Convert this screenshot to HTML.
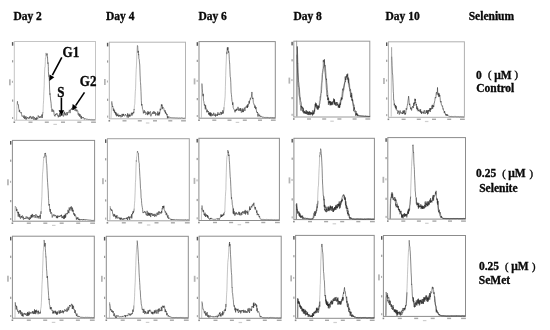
<!DOCTYPE html>
<html><head><meta charset="utf-8"><style>
html,body{margin:0;padding:0;background:#fff;}
#wrap{position:relative;width:550px;height:330px;overflow:hidden;background:#fff;}
svg{position:absolute;left:0;top:0;}
.t{position:absolute;font-family:"Liberation Serif","Noto Serif CJK SC",serif;font-weight:bold;color:#0a0a0a;white-space:nowrap;line-height:1;-webkit-text-stroke:0.3px #000;}
.h{font-size:11.5px;}
.l{font-size:11.5px;}
.g{font-size:13px;transform:scaleY(1.15);transform-origin:0 10.5px;}
.p{font-weight:normal;font-size:10.5px;-webkit-text-stroke:0.4px #000;}
</style></head><body><div id="wrap">
<svg width="550" height="330" viewBox="0 0 550 330">
<rect x="14.3" y="41.5" width="81.2" height="78.7" fill="none" stroke="#c4c4c4" stroke-width="1"/>
<rect x="11.9" y="42.1" width="1.4" height="3.6" fill="#555"/>
<rect x="12.0" y="60.2" width="1.2" height="2.2" fill="#999"/>
<rect x="12.0" y="99.5" width="1.2" height="2.2" fill="#999"/>
<rect x="12.0" y="117.0" width="1.2" height="2" fill="#aaa"/>
<rect x="9.0" y="79.3" width="1.7" height="6" fill="#b4b4b4"/>
<rect x="11.9" y="80.8" width="1.1" height="2" fill="#b0b0b0"/>
<rect x="13.5" y="121.4" width="1.6" height="1.6" fill="#888"/>
<rect x="28.5" y="121.5" width="4.0" height="1.4" fill="#a8a8a8"/>
<rect x="44.8" y="121.5" width="4.0" height="1.4" fill="#a8a8a8"/>
<rect x="61.0" y="121.5" width="4.0" height="1.4" fill="#a8a8a8"/>
<rect x="77.3" y="121.5" width="4.0" height="1.4" fill="#a8a8a8"/>
<rect x="91.1" y="121.5" width="4.8" height="1.4" fill="#a8a8a8"/>
<rect x="53.4" y="123.8" width="3.5" height="1.2" fill="#cfcfcf"/>
<path d="M16.60,119.80 16.90,106.52 17.20,101.68 17.50,101.21 M43.00,112.00 43.30,104.47 43.60,100.32 43.90,91.54 44.20,85.78 44.30,80.10 44.50,74.82 44.80,67.40 45.10,67.39 45.30,61.80 45.40,58.05 45.70,58.34 46.00,52.89 46.30,56.09 46.40,53.82" fill="none" stroke="#8a8a8a" stroke-width="0.5" stroke-linejoin="round"/>
<path d="M17.50,101.21 17.60,103.87 17.80,103.98 18.10,104.91 18.40,104.75 18.70,108.38 19.00,109.13 19.30,111.90 19.60,109.99 19.90,112.29 20.00,112.48 20.20,112.44 20.50,112.74 20.80,113.11 21.10,112.50 21.30,112.24 21.40,113.15 21.70,114.77 22.00,116.27 22.30,115.93 22.60,116.36 22.70,116.14 22.90,116.08 23.20,115.65 23.50,116.61 23.80,118.07 24.10,115.81 24.40,115.64 24.70,118.99 25.00,117.17 25.30,118.19 25.60,118.26 25.90,116.17 26.00,119.66 26.20,119.44 26.50,117.81 26.80,118.48 27.10,117.92 27.40,117.01 27.70,117.84 28.00,118.22 28.30,118.74 28.60,118.23 28.90,117.53 29.20,118.50 29.50,116.69 29.80,117.99 30.00,118.25 30.10,117.15 30.40,115.95 30.70,116.62 31.00,117.51 31.30,117.86 31.60,118.81 31.90,116.84 32.20,117.79 32.50,118.45 32.80,117.80 33.10,116.20 33.40,118.57 33.70,119.59 34.00,118.70 34.30,117.02 34.60,117.53 34.90,118.16 35.00,119.78 35.20,118.58 35.50,118.18 35.80,119.61 36.10,118.00 36.40,119.80 36.70,117.27 37.00,117.40 37.30,118.57 37.60,119.23 37.90,118.31 38.00,117.89 38.20,115.48 38.50,116.55 38.80,116.52 39.10,116.50 39.40,117.74 39.70,116.62 40.00,117.87 40.30,117.00 40.50,116.48 40.60,116.87 40.90,117.11 41.20,117.51 41.50,115.77 41.80,115.96 42.00,114.47 42.10,118.02 42.40,116.92 42.70,113.61 43.00,112.00 M46.40,53.82 46.60,54.09 46.90,54.62 47.20,53.55 47.30,57.19 47.50,57.01 47.80,63.60 48.10,62.61 48.30,66.46 48.40,71.31 48.70,76.30 49.00,75.98 49.30,79.62 49.60,89.06 49.90,94.60 50.00,93.51 50.20,95.99 50.50,98.93 50.80,101.07 51.10,103.33 51.40,107.80 51.70,108.34 52.00,111.75 52.30,109.47 52.60,110.19 52.90,109.79 53.20,111.77 53.50,110.61 53.80,110.46 54.10,114.22 54.40,115.64 54.70,115.28 55.00,116.35 55.30,115.05 55.60,113.90 55.90,115.01 56.20,114.51 56.50,113.66 56.80,113.01 57.10,113.36 57.40,115.31 57.70,115.59 58.00,114.88 58.30,117.31 58.60,115.69 58.90,116.15 59.20,116.90 59.50,114.30 59.80,112.82 60.00,116.12 60.10,114.25 60.40,116.53 60.70,115.11 61.00,115.73 61.30,115.22 61.60,111.85 61.90,115.49 62.20,113.98 62.50,114.11 62.80,114.75 63.10,116.34 63.40,116.26 63.70,116.20 64.00,112.63 64.30,113.74 64.60,111.75 64.90,114.24 65.00,115.16 65.20,113.39 65.50,114.59 65.80,114.50 66.10,115.43 66.40,112.82 66.70,112.47 67.00,112.21 67.30,115.18 67.60,113.98 67.90,112.12 68.00,112.57 68.20,112.33 68.50,112.30 68.80,111.60 69.10,111.28 69.40,109.86 69.70,110.32 70.00,113.15 70.30,111.20 70.60,110.14 70.90,109.35 71.00,109.62 71.20,109.90 71.50,108.23 71.80,109.25 72.10,109.11 72.40,107.43 72.70,107.24 73.00,106.96 73.30,106.90 73.50,109.89 73.60,105.69 73.90,108.86 74.20,108.89 74.50,108.65 74.80,109.51 75.10,110.83 75.40,109.05 75.50,108.65 75.70,108.05 76.00,109.23 76.30,111.35 76.60,110.10 76.90,109.67 77.20,110.15 77.50,110.89 77.80,110.83 78.10,114.49 78.40,113.80 78.70,113.35 79.00,115.84 79.30,113.82 79.60,116.21 79.90,116.90 80.00,114.33 80.20,114.49 80.50,115.49 80.80,117.87 81.10,118.55 81.40,115.88 81.70,118.62 82.00,117.36 82.30,117.54 82.60,117.53 82.90,117.82 83.20,117.06 83.50,117.75 83.80,117.86 84.00,118.68 84.10,119.24 84.40,119.24 84.70,118.60 85.00,118.37 85.30,118.77 85.60,118.78 85.90,119.22 86.20,119.10 86.50,119.10 86.80,119.29 87.10,119.33 87.40,119.19 87.70,119.37 88.00,119.48 88.30,119.51 88.60,119.54 88.90,119.50 89.20,119.57 89.50,119.51 89.80,119.49 90.10,119.74 90.40,119.64 90.70,119.66 91.00,119.47 91.30,119.62 91.60,119.74 91.90,119.54 92.20,119.79 92.50,119.65 92.80,119.75 93.10,119.71 93.40,119.75 93.70,119.80 94.00,119.72 94.30,119.80 94.60,119.70 94.90,119.70 95.00,119.80" fill="none" stroke="#4a4a4a" stroke-width="0.7" stroke-linejoin="round"/>
<rect x="109.3" y="42.2" width="76.2" height="76.6" fill="none" stroke="#b4b4b4" stroke-width="1"/>
<rect x="106.9" y="42.8" width="1.4" height="3.6" fill="#555"/>
<rect x="107.0" y="60.4" width="1.2" height="2.2" fill="#999"/>
<rect x="107.0" y="98.7" width="1.2" height="2.2" fill="#999"/>
<rect x="107.0" y="115.6" width="1.2" height="2" fill="#aaa"/>
<rect x="104.0" y="79.0" width="1.7" height="6" fill="#b4b4b4"/>
<rect x="106.9" y="80.5" width="1.1" height="2" fill="#b0b0b0"/>
<rect x="108.5" y="120.0" width="1.6" height="1.6" fill="#888"/>
<rect x="122.5" y="120.1" width="4.0" height="1.4" fill="#a8a8a8"/>
<rect x="137.8" y="120.1" width="4.0" height="1.4" fill="#a8a8a8"/>
<rect x="153.0" y="120.1" width="4.0" height="1.4" fill="#a8a8a8"/>
<rect x="168.3" y="120.1" width="4.0" height="1.4" fill="#a8a8a8"/>
<rect x="181.1" y="120.1" width="4.8" height="1.4" fill="#a8a8a8"/>
<rect x="145.9" y="122.4" width="3.5" height="1.2" fill="#cfcfcf"/>
<path d="M111.00,118.09 111.30,110.22 111.50,103.44 111.60,104.35 111.80,101.36 M134.20,109.53 134.40,105.64 134.70,104.52 134.80,103.51 135.00,98.51 135.30,91.63 135.60,88.31 135.90,77.28 136.20,69.57 136.50,65.10 136.80,56.08 137.10,47.68 137.40,45.38" fill="none" stroke="#8a8a8a" stroke-width="0.5" stroke-linejoin="round"/>
<path d="M111.80,101.36 111.90,103.11 112.20,103.52 112.50,106.96 112.80,106.26 113.00,107.81 113.10,108.81 113.40,110.93 113.70,108.64 114.00,109.21 114.30,112.35 114.60,110.39 114.90,113.12 115.20,112.43 115.50,113.67 115.70,111.95 115.80,115.18 116.10,113.50 116.40,112.84 116.70,116.27 117.00,114.51 117.30,115.93 117.60,114.17 117.90,113.60 118.20,114.51 118.50,116.66 118.80,115.05 119.10,115.93 119.40,116.27 119.70,114.85 120.00,116.33 120.30,115.74 120.60,115.02 120.90,117.42 121.20,117.14 121.50,116.40 121.80,115.21 122.10,113.90 122.40,116.68 122.70,115.89 123.00,113.94 123.30,115.70 123.60,113.90 123.90,115.54 124.20,115.71 124.50,115.94 124.80,115.76 125.10,115.69 125.40,114.17 125.70,115.08 126.00,114.98 126.30,115.34 126.60,115.96 126.90,116.39 127.20,117.48 127.50,113.41 127.80,115.99 128.10,115.28 128.40,117.58 128.70,116.43 129.00,113.79 129.30,116.04 129.60,115.18 129.90,116.82 130.00,114.76 130.20,115.62 130.50,115.37 130.80,115.21 131.10,114.43 131.40,112.72 131.70,115.26 132.00,115.71 132.30,114.21 132.60,112.83 132.70,114.26 132.90,114.18 133.20,112.42 133.50,111.86 133.80,113.11 134.10,108.98 134.20,109.53 M137.40,45.38 137.70,45.90 138.00,52.68 138.30,50.88 138.60,55.08 138.70,54.48 138.90,58.71 139.20,59.20 139.50,62.98 139.70,64.00 139.80,66.01 140.10,75.10 140.40,81.68 140.50,82.48 140.70,85.31 141.00,91.60 141.30,100.30 141.60,105.45 141.90,104.08 142.20,106.15 142.50,108.85 142.60,109.17 142.80,109.55 143.10,110.90 143.40,113.38 143.70,111.75 144.00,111.36 144.30,110.21 144.60,112.88 144.90,112.80 145.20,111.50 145.50,111.92 145.70,113.40 145.80,114.69 146.10,114.11 146.40,113.45 146.70,112.64 147.00,113.31 147.30,112.75 147.60,115.17 147.90,111.07 148.20,112.05 148.50,114.15 148.80,112.17 149.10,114.36 149.40,112.46 149.70,112.88 150.00,112.38 150.30,111.35 150.60,112.16 150.90,116.30 151.20,114.46 151.50,114.15 151.80,114.35 152.10,113.59 152.40,113.92 152.70,112.11 153.00,112.24 153.30,113.88 153.60,112.24 153.90,111.06 154.20,112.56 154.50,112.30 154.80,113.95 155.00,112.34 155.10,111.96 155.40,113.03 155.70,115.59 156.00,113.58 156.30,113.82 156.60,113.60 156.90,113.95 157.20,114.73 157.50,115.32 157.80,111.46 158.10,115.31 158.40,113.59 158.70,113.20 159.00,115.52 159.30,112.01 159.60,114.19 159.90,112.21 160.20,108.75 160.50,110.21 160.80,109.94 161.10,107.95 161.40,104.44 161.70,106.10 161.90,105.82 162.00,104.51 162.30,109.13 162.60,106.70 162.90,107.10 163.20,107.84 163.50,107.76 163.80,108.40 164.10,110.22 164.40,111.13 164.70,110.62 165.00,111.78 165.20,110.48 165.30,113.17 165.60,112.03 165.90,113.75 166.20,112.83 166.50,113.82 166.80,115.19 167.10,113.99 167.40,118.26 167.70,116.37 167.80,116.48 168.00,116.07 168.30,117.99 168.60,117.86 168.90,117.28 169.20,116.73 169.50,117.24 169.80,117.63 170.00,117.57 170.10,117.51 170.40,117.52 170.70,117.57 171.00,117.65 171.30,117.60 171.60,117.66 171.90,117.80 172.20,117.78 172.50,117.65 172.80,117.73 173.10,117.73 173.40,117.73 173.70,117.78 174.00,117.75 174.30,117.77 174.60,117.78 174.90,117.80 175.20,117.94 175.50,117.90 175.80,117.70 176.10,117.80 176.40,117.78 176.70,117.95 177.00,117.90 177.30,117.98 177.60,117.90 177.90,117.73 178.20,117.97 178.50,117.96 178.80,118.00 179.10,117.83 179.40,117.98 179.70,117.92 180.00,117.93 180.30,118.05 180.60,118.06 180.90,117.95 181.20,117.88 181.50,117.81 181.80,118.01 182.10,118.20 182.40,118.09 182.70,117.88 183.00,118.03 183.30,118.17 183.60,118.31 183.90,118.27 184.20,118.20 184.50,118.20 184.80,118.09 185.00,118.15" fill="none" stroke="#262626" stroke-width="0.55" stroke-linejoin="round"/>
<rect x="199.0" y="41.6" width="76.3" height="76.6" fill="none" stroke="#8c8c8c" stroke-width="1"/>
<rect x="196.6" y="42.2" width="1.4" height="3.6" fill="#555"/>
<rect x="196.7" y="59.8" width="1.2" height="2.2" fill="#999"/>
<rect x="196.7" y="98.0" width="1.2" height="2.2" fill="#999"/>
<rect x="196.7" y="115.0" width="1.2" height="2" fill="#aaa"/>
<rect x="193.7" y="78.4" width="1.7" height="6" fill="#b4b4b4"/>
<rect x="196.6" y="79.9" width="1.1" height="2" fill="#b0b0b0"/>
<rect x="198.2" y="119.4" width="1.6" height="1.6" fill="#888"/>
<rect x="212.3" y="119.5" width="4.0" height="1.4" fill="#a8a8a8"/>
<rect x="227.5" y="119.5" width="4.0" height="1.4" fill="#a8a8a8"/>
<rect x="242.8" y="119.5" width="4.0" height="1.4" fill="#a8a8a8"/>
<rect x="258.0" y="119.5" width="4.0" height="1.4" fill="#a8a8a8"/>
<rect x="270.9" y="119.5" width="4.8" height="1.4" fill="#a8a8a8"/>
<rect x="235.7" y="121.8" width="3.5" height="1.2" fill="#cfcfcf"/>
<path d="M201.40,117.64 201.60,94.25 201.70,89.62 201.80,83.55 202.00,83.61 M224.00,107.11 224.20,106.33 224.50,102.64 224.80,100.20 225.10,96.76 225.30,90.41 225.40,86.75 225.70,75.67 226.00,66.18 226.30,59.95 226.60,51.75 226.90,54.15" fill="none" stroke="#8a8a8a" stroke-width="0.5" stroke-linejoin="round"/>
<path d="M202.00,83.61 202.30,88.79 202.60,92.75 202.90,95.08 203.10,96.24 203.20,93.85 203.50,100.61 203.80,101.41 204.10,103.50 204.40,105.51 204.70,104.34 204.90,105.08 205.00,106.69 205.30,109.37 205.60,105.18 205.90,107.99 206.20,108.02 206.50,110.62 206.80,112.35 207.10,110.48 207.40,109.74 207.70,111.96 208.00,112.06 208.30,111.00 208.60,114.39 208.90,112.92 209.20,114.74 209.50,112.50 209.80,115.60 210.10,112.63 210.40,115.79 210.70,112.47 211.00,116.42 211.30,114.50 211.60,113.29 211.90,115.00 212.20,115.83 212.50,114.25 212.80,114.74 213.10,115.53 213.40,114.94 213.70,112.73 214.00,114.46 214.30,115.34 214.60,115.04 214.90,115.72 215.20,113.60 215.50,116.58 215.80,115.04 216.10,114.57 216.40,115.58 216.70,115.53 217.00,114.63 217.30,113.89 217.50,115.87 217.60,115.13 217.90,112.29 218.20,113.11 218.50,114.90 218.80,114.37 219.10,114.41 219.40,114.54 219.70,113.62 220.00,115.09 220.30,112.08 220.60,111.99 220.90,112.96 221.20,113.57 221.40,113.67 221.50,114.54 221.80,111.96 222.10,114.03 222.40,112.80 222.70,110.34 223.00,111.08 223.30,113.49 223.60,111.39 223.90,109.29 224.00,107.11 M226.90,54.15 227.20,48.73 227.40,47.34 227.50,50.28 227.80,49.04 228.10,47.38 228.40,52.60 228.70,51.40 229.00,53.31 229.30,59.49 229.60,63.29 229.70,63.15 229.90,69.37 230.20,76.41 230.40,77.70 230.50,77.61 230.80,82.71 231.00,89.10 231.10,92.14 231.40,94.37 231.70,97.58 232.00,101.37 232.30,101.68 232.60,104.91 232.90,102.48 233.20,107.43 233.50,108.39 233.80,108.84 234.10,109.52 234.40,109.82 234.70,111.14 235.00,112.33 235.30,110.02 235.60,111.14 235.90,109.42 236.20,110.57 236.50,108.75 236.80,110.39 237.10,109.23 237.40,109.64 237.70,108.01 238.00,106.86 238.30,107.77 238.60,109.94 238.90,110.94 239.20,108.52 239.50,110.32 239.80,110.51 240.10,110.34 240.40,108.02 240.70,110.93 241.00,109.52 241.30,112.52 241.60,112.05 241.90,111.87 242.20,108.36 242.50,111.99 242.80,112.15 243.10,109.35 243.40,112.07 243.50,110.72 243.70,109.97 244.00,108.63 244.30,107.58 244.60,107.79 244.90,111.03 245.20,108.27 245.50,108.08 245.80,106.62 246.10,106.44 246.40,106.32 246.70,105.62 247.00,108.02 247.30,106.11 247.40,107.75 247.60,104.38 247.90,106.96 248.20,104.72 248.50,105.01 248.80,103.01 249.10,100.97 249.40,103.51 249.70,100.45 250.00,100.48 250.30,98.44 250.60,99.33 250.90,97.52 251.20,97.50 251.50,96.38 251.80,93.52 251.90,91.96 252.10,95.81 252.40,97.93 252.70,99.05 253.00,97.82 253.30,102.34 253.40,102.55 253.60,103.11 253.90,104.40 254.20,104.29 254.50,105.99 254.80,107.92 255.10,106.67 255.20,105.61 255.40,108.02 255.70,109.15 256.00,107.06 256.30,109.51 256.60,112.03 256.90,111.83 257.20,112.94 257.50,111.97 257.80,115.29 257.90,116.52 258.10,114.29 258.40,113.87 258.70,113.60 259.00,116.21 259.30,115.45 259.60,114.80 259.90,116.61 260.20,116.43 260.50,116.55 260.80,115.84 261.10,116.52 261.40,116.83 261.70,116.50 262.00,117.04 262.30,117.16 262.60,117.10 262.90,116.97 263.20,117.05 263.50,117.18 263.80,117.33 264.10,117.42 264.40,117.49 264.70,117.42 265.00,117.46 265.30,117.32 265.60,117.59 265.90,117.75 266.20,117.48 266.50,117.48 266.80,117.60 267.10,117.58 267.40,117.41 267.70,117.48 268.00,117.45 268.30,117.77 268.60,117.50 268.90,117.66 269.20,117.78 269.50,117.78 269.80,117.74 270.10,117.76 270.40,117.48 270.70,117.58 271.00,117.55 271.30,117.60 271.60,117.80 271.90,117.47 272.20,117.70 272.50,117.53 272.80,117.79 273.10,117.79 273.40,117.62 273.70,117.80 274.00,117.69 274.30,117.80 274.60,117.72 274.90,117.64 275.00,117.66" fill="none" stroke="#262626" stroke-width="0.55" stroke-linejoin="round"/>
<rect x="293.8" y="41.2" width="76.0" height="75.8" fill="none" stroke="#9a9a9a" stroke-width="1"/>
<rect x="291.4" y="41.8" width="1.4" height="3.6" fill="#555"/>
<rect x="291.5" y="59.2" width="1.2" height="2.2" fill="#999"/>
<rect x="291.5" y="97.0" width="1.2" height="2.2" fill="#999"/>
<rect x="291.5" y="113.8" width="1.2" height="2" fill="#aaa"/>
<rect x="288.5" y="77.6" width="1.7" height="6" fill="#b4b4b4"/>
<rect x="291.4" y="79.1" width="1.1" height="2" fill="#b0b0b0"/>
<rect x="293.0" y="118.2" width="1.6" height="1.6" fill="#888"/>
<rect x="307.0" y="118.3" width="4.0" height="1.4" fill="#a8a8a8"/>
<rect x="322.2" y="118.3" width="4.0" height="1.4" fill="#a8a8a8"/>
<rect x="337.4" y="118.3" width="4.0" height="1.4" fill="#a8a8a8"/>
<rect x="352.6" y="118.3" width="4.0" height="1.4" fill="#a8a8a8"/>
<rect x="365.4" y="118.3" width="4.8" height="1.4" fill="#a8a8a8"/>
<rect x="330.3" y="120.6" width="3.5" height="1.2" fill="#cfcfcf"/>
<path d="M296.30,116.33 296.50,59.46 296.60,40.81 296.90,54.66 M319.10,105.83 319.40,101.18 319.70,97.94 320.00,96.50 320.30,97.59 320.60,95.33 320.90,88.11 321.20,85.50 321.50,82.46 321.80,79.05 321.90,74.46 322.10,73.02 322.40,72.49 322.70,70.27 323.00,66.35 323.20,59.97 323.30,62.21" fill="none" stroke="#8a8a8a" stroke-width="0.5" stroke-linejoin="round"/>
<path d="M296.90,54.66 297.10,60.02 297.20,64.50 297.50,70.08 297.80,77.89 297.90,80.38 298.10,83.99 298.40,87.04 298.70,87.26 298.90,90.88 299.00,94.37 299.30,96.22 299.60,97.76 299.70,99.98 299.90,100.80 300.20,104.60 300.50,104.92 300.80,107.16 301.00,110.66 301.10,106.04 301.40,106.88 301.70,106.20 302.00,106.73 302.30,110.43 302.60,109.97 302.90,112.23 303.20,108.08 303.50,110.10 303.60,113.24 303.80,112.76 304.10,112.65 304.40,112.70 304.70,111.73 305.00,111.75 305.30,111.88 305.60,112.96 305.90,111.79 306.20,112.48 306.50,113.96 306.80,110.91 307.10,111.47 307.40,113.15 307.50,112.18 307.70,112.30 308.00,114.86 308.30,112.93 308.60,111.91 308.90,113.70 309.20,114.78 309.50,111.15 309.80,111.76 310.10,112.78 310.40,111.97 310.70,115.17 311.00,113.64 311.30,112.77 311.50,113.96 311.60,112.43 311.90,112.61 312.20,113.43 312.50,115.52 312.80,110.35 313.10,113.02 313.40,113.89 313.70,112.83 314.00,114.06 314.30,110.64 314.60,108.65 314.90,106.67 315.20,103.99 315.40,106.67 315.50,102.67 315.80,105.12 316.10,105.38 316.40,105.86 316.70,105.01 317.00,107.16 317.30,107.79 317.60,107.69 317.90,108.60 318.20,107.05 318.50,106.25 318.80,107.48 319.10,105.83 M323.30,62.21 323.60,60.20 323.70,60.36 323.90,60.39 324.20,62.18 324.50,64.43 324.80,70.97 325.10,72.84 325.40,75.94 325.70,78.84 325.80,78.77 326.00,81.98 326.30,87.89 326.60,90.79 326.90,96.26 327.10,96.01 327.20,96.09 327.50,95.12 327.80,99.93 328.10,98.12 328.40,104.79 328.70,101.63 329.00,102.81 329.30,100.93 329.60,102.46 329.90,102.00 330.20,105.48 330.50,104.48 330.80,102.68 331.00,101.80 331.10,104.45 331.40,103.43 331.70,102.06 332.00,104.24 332.30,102.64 332.60,102.68 332.90,101.17 333.20,100.77 333.50,100.49 333.60,98.52 333.80,102.31 334.10,102.30 334.40,99.31 334.70,102.53 335.00,104.51 335.30,103.44 335.60,105.41 335.90,103.37 336.20,104.14 336.50,102.40 336.80,103.22 337.10,102.07 337.40,103.68 337.70,105.58 338.00,106.28 338.30,107.67 338.60,106.61 338.80,105.28 338.90,107.12 339.20,105.58 339.50,107.81 339.80,107.02 340.10,104.40 340.40,99.99 340.70,99.83 341.00,99.86 341.30,97.38 341.40,99.02 341.60,98.03 341.90,96.39 342.20,93.53 342.50,89.86 342.70,88.67 342.80,89.38 343.10,90.37 343.40,89.43 343.70,87.14 344.00,84.82 344.30,83.99 344.60,82.57 344.80,82.23 344.90,81.26 345.20,76.62 345.50,79.79 345.80,78.07 346.10,76.02 346.40,76.95 346.60,76.14 346.70,75.87 347.00,74.09 347.30,77.81 347.60,79.41 347.90,79.42 348.00,77.28 348.20,81.81 348.50,84.11 348.80,85.12 349.10,87.39 349.40,87.66 349.70,88.69 349.80,91.08 350.00,90.53 350.30,92.67 350.60,96.86 350.90,96.09 351.20,96.48 351.50,94.97 351.80,99.02 351.90,100.52 352.10,98.96 352.40,101.06 352.70,100.18 353.00,105.74 353.30,105.80 353.60,109.30 353.70,110.78 353.90,109.44 354.20,111.78 354.50,111.61 354.80,111.84 355.10,112.56 355.40,112.70 355.70,115.77 355.80,115.33 356.00,113.45 356.30,115.10 356.60,113.91 356.90,113.61 357.20,115.32 357.50,114.48 357.80,115.61 358.10,115.55 358.40,115.85 358.70,115.83 359.00,115.91 359.30,115.87 359.60,115.91 359.90,115.91 360.20,115.97 360.50,115.92 360.80,115.97 361.10,115.99 361.40,115.99 361.70,116.05 362.00,115.98 362.30,116.02 362.60,116.09 362.90,116.05 363.20,116.01 363.50,116.12 363.80,116.16 364.10,116.19 364.40,116.25 364.70,116.02 365.00,116.36 365.30,116.22 365.60,116.18 365.90,116.24 366.20,116.34 366.50,116.40 366.80,116.29 367.10,116.36 367.40,116.21 367.70,116.40 368.00,116.39 368.30,116.38 368.60,116.53 368.90,116.60 369.20,116.58 369.50,116.42" fill="none" stroke="#262626" stroke-width="0.55" stroke-linejoin="round"/>
<path d="M297.00,116.34 297.20,59.98 297.30,46.44 297.60,55.18 297.80,63.32 297.90,63.12 298.20,72.28 298.50,79.05 298.60,82.13 298.80,82.23 299.10,86.04 299.40,87.58 299.60,92.00 299.70,93.00 300.00,96.97 300.30,98.09 300.40,97.89 300.60,100.68 300.90,101.90 301.20,102.53 301.50,105.99 301.70,107.43 301.80,106.81 302.10,108.54 302.40,108.24 302.70,107.06 303.00,108.32 303.30,109.35 303.60,111.36 303.90,112.25 304.20,111.85 304.30,113.14 304.50,110.92 304.80,111.92 305.10,114.00 305.40,112.76 305.70,113.55 306.00,110.01 306.30,110.35 306.60,111.39 306.90,113.73 307.20,114.53 307.50,111.90 307.80,111.53 308.10,111.56 308.20,111.73 308.40,113.48 308.70,112.50 309.00,115.14 309.30,113.81 309.60,112.19 309.90,113.31 310.20,112.87 310.50,113.99 310.80,114.14 311.10,112.68 311.40,114.14 311.70,113.93 312.00,113.34 312.20,113.84 312.30,114.31 312.60,113.06 312.90,112.55 313.20,114.61 313.50,112.74 313.80,111.65 314.10,112.57 314.40,109.82 314.70,111.41 315.00,108.02 315.30,107.69 315.60,104.22 315.90,104.17 316.10,105.53 316.20,104.20 316.50,103.48 316.80,108.53 317.10,105.92 317.40,109.65 317.70,106.67 318.00,105.12 318.30,109.51 318.60,106.07 318.90,107.50 M318.90,107.50 319.20,107.87 319.50,104.10 319.80,103.94 320.10,100.81 320.40,100.53 320.70,97.44 321.00,93.35 321.30,93.09 321.60,89.82 321.90,83.78 322.20,80.75 322.50,74.65 322.60,73.95 322.80,72.73 323.10,69.64 323.40,68.65 M323.40,68.65 323.70,65.38 323.90,63.37 324.00,63.02 324.30,61.57 324.40,59.27 324.60,63.75 324.90,66.29 325.20,65.39 325.50,68.26 325.80,72.22 326.10,77.66 326.40,79.71 326.50,78.89 326.70,82.50 327.00,85.09 327.30,89.49 327.60,92.15 327.80,94.75 327.90,99.02 328.20,100.07 328.50,97.64 328.80,100.36 329.10,102.75 329.40,102.83 329.70,101.33 330.00,104.76 330.30,101.01 330.60,104.47 330.90,104.92 331.20,103.80 331.50,103.83 331.70,105.18 331.80,105.21 332.10,101.69 332.40,102.47 332.70,104.69 333.00,103.28 333.30,102.37 333.60,101.03 333.90,100.98 334.20,100.32 334.30,104.50 334.50,99.53 334.80,104.07 335.10,102.67 335.40,102.50 335.70,102.87 336.00,102.39 336.30,105.77 336.60,104.51 336.90,104.11 337.20,104.31 337.50,105.16 337.80,103.58 338.10,105.15 338.40,105.09 338.70,107.17 339.00,107.29 339.30,103.92 339.50,106.35 339.60,107.75 339.90,103.45 340.20,102.57 340.50,104.95 340.80,102.36 341.10,100.98 341.40,98.89 341.70,100.17 342.00,98.23 342.10,99.17 342.30,98.40 342.60,97.17 342.90,93.91 343.20,91.93 343.40,91.69 343.50,90.95 343.80,89.74 344.10,87.01 344.40,85.83 344.70,83.65 345.00,82.01 345.30,81.46 345.50,81.87 345.60,78.93 345.90,79.80 346.20,78.54 346.50,77.28 346.80,77.52 347.10,75.05 347.30,76.45 347.40,76.36 347.70,73.63 348.00,78.35 348.30,79.71 348.60,82.86 348.70,78.49 348.90,81.59 349.20,83.92 349.50,83.78 349.80,89.10 350.10,89.54 350.40,89.20 350.50,89.11 350.70,91.25 351.00,96.47 351.30,97.85 351.60,92.83 351.90,94.58 352.20,99.86 352.50,100.02 352.60,99.66 352.80,102.38 353.10,102.79 353.40,104.28 353.70,105.46 354.00,104.78 354.30,109.31 354.40,107.33 354.60,109.88 354.90,110.28 355.20,110.43 355.50,111.54 355.80,112.29 356.10,111.16 356.40,113.82 356.50,114.87 356.70,113.11 357.00,113.62 357.30,115.81 357.60,115.72 357.90,114.58 358.20,115.57 358.50,115.46 358.80,115.79 359.10,115.74 359.40,115.75 359.70,115.73 360.00,115.82 360.30,115.82 360.60,115.82 360.90,115.86 361.20,115.88 361.50,115.95 361.80,115.95 362.10,115.98 362.40,115.91 362.70,116.13 363.00,116.00 363.30,116.13 363.60,116.16 363.90,116.05 364.20,116.20 364.50,116.19 364.80,116.16 365.10,116.11 365.40,116.19 365.70,116.09 366.00,116.21 366.30,116.20 366.60,116.32 366.90,116.33 367.20,116.25 367.50,116.42 367.80,116.47 368.10,116.37 368.40,116.31 368.70,116.46 369.00,116.18 369.30,116.39 369.60,116.52 369.90,116.60 370.20,116.43" fill="none" stroke="#262626" stroke-width="0.55" stroke-linejoin="round"/>
<rect x="388.4" y="41.8" width="76.0" height="75.5" fill="none" stroke="#b0b0b0" stroke-width="1"/>
<rect x="386.0" y="42.4" width="1.4" height="3.6" fill="#555"/>
<rect x="386.1" y="59.7" width="1.2" height="2.2" fill="#999"/>
<rect x="386.1" y="97.4" width="1.2" height="2.2" fill="#999"/>
<rect x="386.1" y="114.1" width="1.2" height="2" fill="#aaa"/>
<rect x="383.1" y="78.0" width="1.7" height="6" fill="#b4b4b4"/>
<rect x="386.0" y="79.5" width="1.1" height="2" fill="#b0b0b0"/>
<rect x="387.6" y="118.5" width="1.6" height="1.6" fill="#888"/>
<rect x="401.6" y="118.6" width="4.0" height="1.4" fill="#a8a8a8"/>
<rect x="416.8" y="118.6" width="4.0" height="1.4" fill="#a8a8a8"/>
<rect x="432.0" y="118.6" width="4.0" height="1.4" fill="#a8a8a8"/>
<rect x="447.2" y="118.6" width="4.0" height="1.4" fill="#a8a8a8"/>
<rect x="460.0" y="118.6" width="4.8" height="1.4" fill="#a8a8a8"/>
<rect x="424.9" y="120.9" width="3.5" height="1.2" fill="#cfcfcf"/>
<path d="M391.20,116.51 391.40,60.68 391.50,52.26 391.60,47.22 391.80,56.67" fill="none" stroke="#8a8a8a" stroke-width="0.5" stroke-linejoin="round"/>
<path d="M391.80,56.67 392.10,65.46 392.40,72.91 392.70,75.14 393.00,82.87 393.30,91.79 393.50,93.76 393.60,99.79 393.90,99.75 394.20,105.29 394.50,103.62 394.80,106.23 395.10,106.01 395.40,107.95 395.60,104.99 395.70,106.66 396.00,109.35 396.30,106.14 396.60,109.23 396.90,110.30 397.20,110.00 397.50,111.24 397.60,113.72 397.80,113.40 398.10,112.72 398.40,112.39 398.70,110.67 399.00,112.28 399.30,114.53 399.60,113.82 399.90,111.06 400.20,110.50 400.50,112.23 400.80,113.33 401.10,112.33 401.40,112.52 401.70,113.20 402.00,113.77 402.30,112.81 402.60,114.03 402.90,110.69 403.20,112.98 403.50,112.88 403.80,110.48 404.10,113.84 404.40,110.36 404.70,110.59 405.00,114.88 405.30,114.05 405.50,112.94 405.60,113.75 405.90,112.43 406.20,108.28 406.50,109.38 406.80,109.64 407.10,106.29 407.30,105.83 407.40,104.43 407.70,104.55 408.00,100.76 408.30,98.94 408.60,96.15 408.90,98.72 409.20,102.60 409.50,105.02 409.60,104.39 409.80,103.80 410.10,106.48 410.40,107.10 410.70,109.21 411.00,107.49 411.20,108.16 411.30,109.34 411.60,110.47 411.90,107.93 412.20,107.56 412.50,105.99 412.80,106.47 413.10,108.09 413.30,107.74 413.40,107.88 413.70,102.93 414.00,105.83 414.30,102.22 414.60,103.73 414.90,98.73 415.20,100.89 415.40,99.01 415.50,102.91 415.80,102.34 416.10,105.45 416.40,104.04 416.70,108.92 417.00,106.17 417.30,110.34 417.60,107.77 417.90,107.93 418.20,111.30 418.50,110.43 418.80,110.97 419.10,109.40 419.40,110.79 419.70,111.48 420.00,110.53 420.30,112.06 420.60,109.18 420.90,112.96 421.20,111.45 421.50,113.95 421.80,111.77 422.10,111.49 422.40,111.84 422.70,112.83 423.00,113.32 423.30,112.08 423.60,111.68 423.70,113.19 423.90,113.54 424.20,110.17 424.50,110.82 424.80,111.07 425.10,113.95 425.40,113.27 425.70,112.64 426.00,112.17 426.30,110.04 426.60,112.93 426.90,111.06 427.20,110.73 427.50,114.36 427.80,110.13 428.10,113.77 428.40,111.94 428.70,110.18 428.90,111.40 429.00,109.90 429.30,110.74 429.60,109.13 429.90,108.07 430.20,112.01 430.50,108.32 430.80,110.05 431.10,108.29 431.40,109.09 431.70,106.19 432.00,106.33 432.30,104.82 432.60,108.93 432.80,108.02 432.90,105.28 433.20,107.11 433.50,105.64 433.80,106.71 434.10,102.86 434.40,102.84 434.70,101.01 434.90,100.38 435.00,98.78 435.30,97.23 435.60,98.13 435.90,98.05 436.20,93.11 436.50,92.05 436.80,92.72 437.10,94.60 437.40,90.24 437.50,87.45 437.70,91.99 438.00,92.70 438.30,95.41 438.60,93.36 438.90,97.04 439.20,93.46 439.30,96.41 439.50,95.96 439.80,94.99 440.10,97.67 440.40,101.46 440.70,102.31 441.00,101.01 441.30,104.46 441.40,104.49 441.60,105.16 441.90,105.25 442.20,106.32 442.50,105.76 442.80,107.99 443.10,109.39 443.20,108.60 443.40,109.59 443.70,110.76 444.00,111.38 444.30,113.08 444.60,111.07 444.90,112.49 445.20,113.93 445.50,113.77 445.80,114.99 445.90,114.35 446.10,115.80 446.40,114.67 446.70,114.13 447.00,115.44 447.30,115.99 447.60,114.45 447.90,115.44 448.20,115.68 448.50,116.04 448.80,116.20 449.10,116.15 449.40,116.16 449.70,116.52 449.80,116.60 450.00,116.55 450.30,116.52 450.60,116.44 450.90,116.77 451.20,116.41 451.50,116.38 451.80,116.64 452.10,116.58 452.40,116.62 452.70,116.60 453.00,116.74 453.30,116.72 453.60,116.53 453.90,116.69 454.20,116.47 454.50,116.43 454.80,116.73 455.10,116.57 455.40,116.40 455.70,116.62 456.00,116.56 456.30,116.69 456.60,116.64 456.90,116.57 457.20,116.58 457.50,116.74 457.80,116.58 458.10,116.69 458.40,116.58 458.70,116.73 459.00,116.88 459.30,116.76 459.60,116.82 459.90,116.76 460.20,116.62 460.50,116.70 460.80,116.74 461.10,116.78 461.40,116.68 461.70,116.81 462.00,116.69 462.30,116.77 462.60,116.77 462.90,116.66 463.20,116.89 463.50,116.80 463.80,116.81 464.00,116.80" fill="none" stroke="#262626" stroke-width="0.55" stroke-linejoin="round"/>
<rect x="12.4" y="140.4" width="82.2" height="80.8" fill="none" stroke="#8c8c8c" stroke-width="1"/>
<rect x="10.0" y="141.0" width="1.4" height="3.6" fill="#555"/>
<rect x="10.1" y="159.6" width="1.2" height="2.2" fill="#999"/>
<rect x="10.1" y="200.0" width="1.2" height="2.2" fill="#999"/>
<rect x="10.1" y="218.0" width="1.2" height="2" fill="#aaa"/>
<rect x="7.1" y="179.3" width="1.7" height="6" fill="#b4b4b4"/>
<rect x="10.0" y="180.8" width="1.1" height="2" fill="#b0b0b0"/>
<rect x="11.6" y="222.4" width="1.6" height="1.6" fill="#888"/>
<rect x="26.8" y="222.5" width="4.0" height="1.4" fill="#a8a8a8"/>
<rect x="43.3" y="222.5" width="4.0" height="1.4" fill="#a8a8a8"/>
<rect x="59.7" y="222.5" width="4.0" height="1.4" fill="#a8a8a8"/>
<rect x="76.2" y="222.5" width="4.0" height="1.4" fill="#a8a8a8"/>
<rect x="90.2" y="222.5" width="4.8" height="1.4" fill="#a8a8a8"/>
<rect x="52.0" y="224.8" width="3.5" height="1.2" fill="#cfcfcf"/>
<path d="M14.90,220.40 15.00,209.23 15.20,206.11 15.50,206.95 M41.00,211.25 41.10,214.02 41.30,207.52 41.60,201.99 41.90,196.59 42.20,184.21 42.50,174.26 42.80,171.30 43.10,167.43 43.40,161.71 43.70,158.42 43.80,156.85 44.00,157.65" fill="none" stroke="#8a8a8a" stroke-width="0.5" stroke-linejoin="round"/>
<path d="M15.50,206.95 15.80,206.90 16.10,207.32 16.40,210.91 16.50,210.98 16.70,208.85 17.00,209.16 17.30,212.20 17.60,213.06 17.90,212.34 18.20,216.61 18.50,211.85 18.80,213.88 19.10,215.78 19.40,217.23 19.70,214.09 20.00,216.04 20.30,218.51 20.60,218.60 20.90,216.56 21.20,216.91 21.50,215.97 21.80,217.78 22.10,216.32 22.40,215.48 22.70,216.30 23.00,218.33 23.30,216.73 23.40,219.54 23.60,219.64 23.90,219.16 24.20,218.61 24.50,219.01 24.80,218.03 25.10,218.74 25.40,218.30 25.70,218.68 26.00,216.62 26.30,217.06 26.60,216.70 26.90,218.84 27.20,218.51 27.50,217.05 27.80,216.88 28.10,217.50 28.40,219.32 28.70,218.32 28.80,218.22 29.00,217.70 29.30,218.37 29.60,219.99 29.90,216.91 30.20,216.90 30.50,218.96 30.80,217.39 31.10,215.01 31.40,217.72 31.70,214.84 32.00,217.08 32.30,213.93 32.60,215.14 32.90,217.44 33.20,215.51 33.50,215.30 33.80,216.24 34.10,216.13 34.40,215.41 34.70,215.01 35.00,218.06 35.30,217.55 35.60,215.92 35.90,214.15 36.20,215.09 36.50,215.53 36.80,216.64 37.10,218.18 37.40,215.68 37.70,216.74 38.00,216.25 38.30,217.19 38.40,216.24 38.60,217.55 38.90,218.52 39.20,216.47 39.50,216.43 39.80,216.85 40.10,214.94 40.30,218.77 40.40,214.24 40.70,213.75 41.00,211.25 M44.00,157.65 44.30,156.66 44.60,155.71 44.90,153.11 45.20,153.53 45.50,152.93 45.80,156.25 46.00,155.77 46.10,155.98 46.40,163.28 46.70,163.49 46.80,165.91 47.00,170.38 47.30,177.83 47.60,182.44 47.90,187.18 48.20,190.77 48.50,198.70 48.70,200.34 48.80,205.39 49.10,205.31 49.40,204.08 49.70,209.85 50.00,209.74 50.10,211.82 50.30,208.99 50.60,213.11 50.90,213.72 51.20,212.27 51.50,212.41 51.80,213.82 52.00,215.18 52.10,217.50 52.40,217.31 52.70,216.94 53.00,214.71 53.30,214.62 53.60,215.57 53.90,214.76 54.20,214.55 54.50,214.93 54.80,216.32 55.10,215.27 55.40,215.82 55.70,215.36 56.00,215.61 56.10,215.49 56.30,217.50 56.60,216.33 56.90,218.17 57.20,216.36 57.50,218.17 57.80,215.39 58.10,216.88 58.40,217.20 58.70,216.38 59.00,216.92 59.30,215.82 59.60,216.65 59.90,215.90 60.20,216.58 60.50,216.08 60.80,215.07 61.10,215.66 61.40,216.21 61.50,214.72 61.70,216.52 62.00,218.14 62.30,216.50 62.60,217.66 62.90,217.95 63.20,215.97 63.50,218.43 63.80,219.07 64.10,215.07 64.40,218.69 64.70,215.18 65.00,217.93 65.30,213.71 65.60,217.47 65.90,215.93 66.20,213.75 66.50,213.90 66.80,213.16 67.10,212.91 67.40,214.21 67.70,213.00 68.00,209.85 68.30,211.56 68.40,212.45 68.60,211.50 68.90,213.16 69.20,207.47 69.50,210.14 69.80,209.65 70.10,210.49 70.40,207.28 70.70,207.14 71.00,208.63 71.10,208.91 71.30,206.34 71.60,209.96 71.90,209.78 72.20,211.24 72.50,207.61 72.80,211.55 73.10,209.84 73.30,210.64 73.40,212.65 73.70,214.54 74.00,213.00 74.30,213.39 74.60,216.11 74.90,213.98 75.20,215.75 75.50,215.86 75.80,215.68 76.10,217.31 76.40,219.65 76.70,217.69 77.00,218.16 77.30,217.71 77.40,219.20 77.60,218.23 77.90,217.31 78.20,218.49 78.50,219.82 78.80,218.66 79.10,219.74 79.40,218.95 79.70,220.28 80.00,219.39 80.30,219.66 80.60,219.39 80.90,219.82 81.20,219.45 81.50,219.05 81.80,219.67 82.10,219.21 82.40,220.04 82.70,219.82 83.00,219.59 83.30,219.78 83.60,219.07 83.90,220.00 84.20,219.48 84.50,219.81 84.80,220.11 85.10,219.36 85.40,219.63 85.70,219.78 86.00,219.80 86.30,219.46 86.60,219.61 86.90,219.98 87.20,219.75 87.50,219.95 87.80,219.79 88.10,219.90 88.40,219.87 88.70,220.08 89.00,220.15 89.30,220.09 89.60,220.09 89.90,220.13 90.20,220.16 90.50,220.16 90.80,220.19 91.10,220.40 91.40,220.45 91.70,220.19 92.00,220.14 92.30,220.48 92.60,220.41 92.90,220.45 93.20,220.41 93.50,220.34 93.80,220.49 94.00,220.51" fill="none" stroke="#262626" stroke-width="0.55" stroke-linejoin="round"/>
<rect x="107.4" y="138.7" width="81.9" height="82.1" fill="none" stroke="#a0a0a0" stroke-width="1"/>
<rect x="105.0" y="139.3" width="1.4" height="3.6" fill="#555"/>
<rect x="105.1" y="158.2" width="1.2" height="2.2" fill="#999"/>
<rect x="105.1" y="199.3" width="1.2" height="2.2" fill="#999"/>
<rect x="105.1" y="217.6" width="1.2" height="2" fill="#aaa"/>
<rect x="102.1" y="178.2" width="1.7" height="6" fill="#b4b4b4"/>
<rect x="105.0" y="179.8" width="1.1" height="2" fill="#b0b0b0"/>
<rect x="106.6" y="222.0" width="1.6" height="1.6" fill="#888"/>
<rect x="121.8" y="222.1" width="4.0" height="1.4" fill="#a8a8a8"/>
<rect x="138.2" y="222.1" width="4.0" height="1.4" fill="#a8a8a8"/>
<rect x="154.5" y="222.1" width="4.0" height="1.4" fill="#a8a8a8"/>
<rect x="170.9" y="222.1" width="4.0" height="1.4" fill="#a8a8a8"/>
<rect x="184.9" y="222.1" width="4.8" height="1.4" fill="#a8a8a8"/>
<rect x="146.9" y="224.4" width="3.5" height="1.2" fill="#cfcfcf"/>
<path d="M109.90,219.85 110.00,212.63 110.20,206.14 110.50,207.97 M134.20,208.53 134.50,203.60 134.80,200.43 135.10,192.89 135.30,187.11 135.40,182.71 135.70,179.21 136.00,166.84 136.30,159.99 136.40,161.91 136.60,156.70 136.90,156.59 137.20,152.09 137.50,151.05" fill="none" stroke="#8a8a8a" stroke-width="0.5" stroke-linejoin="round"/>
<path d="M110.50,207.97 110.80,209.71 111.10,209.24 111.40,210.90 111.50,210.33 111.70,209.62 112.00,210.56 112.30,210.42 112.60,213.49 112.90,213.50 113.20,215.84 113.50,216.45 113.80,214.14 114.10,213.98 114.40,216.23 114.70,214.45 115.00,216.05 115.30,216.78 115.60,215.78 115.90,218.65 116.20,215.79 116.50,217.50 116.80,216.81 117.00,215.15 117.10,217.34 117.40,217.48 117.70,218.47 118.00,217.72 118.30,217.03 118.60,217.28 118.90,217.54 119.20,218.67 119.50,217.60 119.80,219.36 120.10,219.22 120.40,217.99 120.70,219.78 121.00,217.44 121.30,219.13 121.60,218.29 121.90,218.89 122.20,219.69 122.50,218.86 122.80,218.74 123.10,219.61 123.40,218.52 123.70,218.56 123.80,219.46 124.00,219.26 124.30,218.14 124.60,218.92 124.90,219.22 125.20,218.61 125.50,218.39 125.80,218.66 126.10,218.68 126.40,218.02 126.70,219.11 127.00,217.28 127.30,218.41 127.60,220.04 127.90,217.47 128.20,218.26 128.50,216.42 128.80,217.37 129.10,216.96 129.30,218.12 129.40,217.47 129.70,219.87 130.00,216.43 130.30,217.25 130.60,217.31 130.90,217.58 131.20,217.62 131.50,214.28 131.80,218.46 132.10,215.29 132.40,214.47 132.50,213.16 132.70,214.08 133.00,211.32 133.30,213.04 133.60,210.98 133.90,211.36 134.20,208.53 M137.50,151.05 137.80,152.83 138.10,152.99 138.40,153.13 138.50,155.79 138.70,160.17 139.00,162.55 139.30,163.51 139.40,167.58 139.60,170.95 139.90,176.46 140.20,181.01 140.50,188.66 140.80,189.92 141.10,197.78 141.40,199.01 141.50,200.69 141.70,203.59 142.00,205.90 142.30,207.41 142.60,209.43 142.90,213.00 143.20,213.04 143.50,212.43 143.80,212.76 144.10,211.70 144.40,211.47 144.70,211.04 145.00,212.58 145.30,211.79 145.60,213.06 145.90,214.51 146.20,214.31 146.50,215.39 146.80,212.34 147.10,210.79 147.40,211.88 147.70,215.95 148.00,214.10 148.30,212.46 148.60,215.07 148.90,212.96 149.20,216.00 149.50,213.44 149.70,213.59 149.80,215.19 150.10,212.86 150.40,214.22 150.70,217.07 151.00,215.11 151.30,213.11 151.60,214.25 151.90,214.48 152.20,213.46 152.50,214.93 152.80,215.96 153.10,214.33 153.40,215.62 153.70,215.06 153.80,214.93 154.00,213.83 154.30,216.12 154.60,216.71 154.90,214.40 155.20,213.85 155.50,215.66 155.80,215.12 156.10,216.45 156.40,215.57 156.70,214.58 157.00,212.75 157.30,215.19 157.60,214.32 157.90,212.35 158.20,212.08 158.50,211.65 158.80,214.87 159.10,213.50 159.30,211.46 159.40,212.80 159.70,212.80 160.00,213.21 160.30,213.12 160.60,212.32 160.90,213.54 161.20,213.50 161.50,210.98 161.80,212.78 162.00,209.83 162.10,208.50 162.40,209.18 162.70,206.05 163.00,207.44 163.30,206.03 163.40,206.88 163.60,208.27 163.90,205.73 164.20,209.91 164.50,210.41 164.80,210.44 165.10,212.47 165.30,212.41 165.40,211.68 165.70,211.55 166.00,214.59 166.30,215.20 166.60,212.86 166.90,214.43 167.20,214.46 167.50,217.55 167.80,215.97 168.10,215.32 168.40,218.77 168.70,217.66 169.00,217.56 169.30,217.94 169.60,218.02 169.90,218.61 170.20,219.40 170.50,219.27 170.80,218.96 171.10,219.28 171.40,220.04 171.70,219.18 172.00,219.00 172.30,219.54 172.60,219.15 172.90,219.99 173.20,219.60 173.50,219.58 173.80,219.52 174.10,219.82 174.40,219.37 174.70,219.55 175.00,219.43 175.30,219.73 175.60,219.60 175.90,219.78 176.20,219.60 176.50,219.54 176.80,219.58 177.10,219.71 177.40,219.58 177.70,219.67 178.00,219.60 178.30,219.60 178.60,219.62 178.90,219.76 179.20,219.62 179.50,219.71 179.80,219.74 180.10,219.68 180.40,219.66 180.70,219.79 181.00,219.80 181.30,219.73 181.60,219.71 181.90,219.77 182.20,219.76 182.50,219.75 182.80,219.76 183.10,219.75 183.40,219.77 183.70,219.78 184.00,219.79 184.30,219.80 184.60,219.83 184.90,219.98 185.20,219.55 185.50,219.76 185.80,219.75 186.10,219.97 186.40,219.95 186.70,219.86 187.00,219.87 187.30,219.79 187.60,219.82 187.90,219.83 188.20,219.63 188.50,220.08 188.80,219.97 189.00,220.11" fill="none" stroke="#262626" stroke-width="0.55" stroke-linejoin="round"/>
<rect x="198.9" y="138.3" width="80.5" height="82.2" fill="none" stroke="#8c8c8c" stroke-width="1"/>
<rect x="196.5" y="138.9" width="1.4" height="3.6" fill="#555"/>
<rect x="196.6" y="157.9" width="1.2" height="2.2" fill="#999"/>
<rect x="196.6" y="198.9" width="1.2" height="2.2" fill="#999"/>
<rect x="196.6" y="217.3" width="1.2" height="2" fill="#aaa"/>
<rect x="193.6" y="177.9" width="1.7" height="6" fill="#b4b4b4"/>
<rect x="196.5" y="179.4" width="1.1" height="2" fill="#b0b0b0"/>
<rect x="198.1" y="221.7" width="1.6" height="1.6" fill="#888"/>
<rect x="213.0" y="221.8" width="4.0" height="1.4" fill="#a8a8a8"/>
<rect x="229.1" y="221.8" width="4.0" height="1.4" fill="#a8a8a8"/>
<rect x="245.2" y="221.8" width="4.0" height="1.4" fill="#a8a8a8"/>
<rect x="261.3" y="221.8" width="4.0" height="1.4" fill="#a8a8a8"/>
<rect x="275.0" y="221.8" width="4.8" height="1.4" fill="#a8a8a8"/>
<rect x="237.6" y="224.1" width="3.5" height="1.2" fill="#cfcfcf"/>
<path d="M201.40,220.10 201.50,213.40 201.60,207.93 201.70,209.65 202.00,205.48 M224.80,211.72 225.10,202.93 225.40,196.64 225.70,191.61 225.90,189.55 226.00,182.38 226.30,172.27 226.60,162.14 226.70,159.72 226.90,157.15 227.20,155.24 227.50,155.06 227.80,150.07" fill="none" stroke="#8a8a8a" stroke-width="0.5" stroke-linejoin="round"/>
<path d="M202.00,205.48 202.30,208.91 202.60,210.72 202.90,211.14 203.00,211.40 203.20,212.08 203.50,209.93 203.80,212.66 204.10,215.03 204.40,214.05 204.70,214.44 204.90,216.05 205.00,212.71 205.30,215.52 205.60,216.98 205.90,214.80 206.20,214.16 206.50,216.20 206.80,215.38 207.10,215.33 207.40,216.87 207.60,214.99 207.70,217.75 208.00,215.96 208.30,216.97 208.60,218.47 208.90,217.99 209.20,218.45 209.50,219.42 209.80,219.45 210.10,219.68 210.40,218.16 210.70,218.99 211.00,217.85 211.30,218.98 211.60,219.18 211.90,218.65 212.20,219.06 212.50,219.22 212.80,219.21 213.10,219.34 213.40,219.45 213.70,219.22 214.00,219.32 214.30,219.39 214.60,219.27 214.90,219.41 215.20,219.37 215.50,219.18 215.80,219.37 216.10,219.18 216.40,218.75 216.70,218.93 217.00,219.06 217.30,219.04 217.60,218.53 217.90,219.58 218.20,218.54 218.50,218.67 218.80,219.09 219.10,218.82 219.40,219.59 219.70,218.10 220.00,217.79 220.30,217.67 220.60,215.38 220.90,214.46 221.20,215.24 221.30,216.98 221.50,215.24 221.80,216.97 222.10,214.51 222.40,216.00 222.70,214.91 223.00,215.81 223.30,214.58 223.50,214.73 223.60,213.60 223.90,215.14 224.20,212.51 224.50,212.38 224.80,211.72 M227.80,150.07 228.10,152.70 228.40,151.69 228.60,153.86 228.70,155.96 229.00,154.75 229.30,160.80 229.50,162.94 229.60,164.41 229.90,170.72 230.20,176.77 230.50,179.47 230.80,186.32 231.10,192.52 231.40,198.51 231.60,197.51 231.70,199.35 232.00,200.23 232.30,204.76 232.60,205.50 232.90,208.01 233.00,211.33 233.20,213.53 233.50,208.54 233.80,214.22 234.10,211.22 234.40,214.02 234.70,214.14 234.90,215.71 235.00,213.84 235.30,212.81 235.60,213.65 235.90,214.60 236.20,212.17 236.50,213.72 236.80,213.21 237.10,213.62 237.40,213.56 237.70,214.51 238.00,214.94 238.30,213.66 238.60,213.74 238.90,211.78 239.00,213.26 239.20,212.36 239.50,215.20 239.80,212.80 240.10,213.20 240.40,214.74 240.70,215.26 241.00,215.47 241.30,212.56 241.60,213.90 241.90,214.87 242.20,212.08 242.50,212.77 242.80,211.22 243.10,211.78 243.40,213.44 243.70,212.35 244.00,211.49 244.30,211.00 244.60,213.66 244.90,212.65 245.20,209.92 245.50,214.48 245.80,211.18 246.10,211.60 246.40,211.30 246.70,211.43 247.00,213.35 247.20,210.61 247.30,212.65 247.60,212.09 247.90,214.81 248.20,212.35 248.50,211.87 248.80,211.46 249.10,211.00 249.40,209.76 249.70,206.47 249.90,209.85 250.00,208.66 250.30,209.93 250.60,209.09 250.90,207.54 251.20,206.60 251.50,205.91 251.80,207.43 252.10,206.33 252.40,204.61 252.70,204.98 253.00,205.77 253.30,203.82 253.40,204.56 253.60,204.23 253.90,202.75 254.20,206.63 254.50,206.93 254.80,208.41 255.10,209.48 255.40,206.93 255.70,209.33 256.00,209.68 256.30,210.42 256.60,212.45 256.70,212.84 256.90,210.53 257.20,215.12 257.50,213.68 257.80,213.53 258.10,214.00 258.40,215.08 258.70,214.25 259.00,217.15 259.30,216.89 259.60,216.18 259.90,218.31 260.20,218.43 260.50,218.89 260.80,219.43 261.10,219.38 261.40,219.38 261.70,219.42 262.00,219.34 262.30,219.38 262.60,219.45 262.90,219.48 263.20,219.42 263.50,219.47 263.80,219.46 264.10,219.48 264.40,219.49 264.70,219.50 265.00,219.50 265.30,219.50 265.60,219.57 265.90,219.53 266.20,219.33 266.50,219.56 266.80,219.41 267.10,219.43 267.40,219.56 267.70,219.39 268.00,219.74 268.30,219.62 268.60,219.61 268.90,219.63 269.20,219.61 269.50,219.60 269.80,219.67 270.10,219.54 270.40,219.64 270.70,219.63 271.00,219.70 271.30,219.52 271.60,219.66 271.90,219.63 272.20,219.71 272.50,219.71 272.80,219.68 273.10,219.72 273.40,219.72 273.70,219.82 274.00,219.72 274.30,219.75 274.60,219.61 274.90,219.69 275.20,219.79 275.50,219.83 275.80,219.63 276.10,219.73 276.40,219.71 276.70,219.75 277.00,219.71 277.30,219.72 277.60,219.76 277.90,219.79 278.20,219.88 278.50,219.70 278.80,219.70 279.00,219.88" fill="none" stroke="#262626" stroke-width="0.55" stroke-linejoin="round"/>
<rect x="293.9" y="138.3" width="80.5" height="81.3" fill="none" stroke="#8c8c8c" stroke-width="1"/>
<rect x="291.5" y="138.9" width="1.4" height="3.6" fill="#555"/>
<rect x="291.6" y="157.6" width="1.2" height="2.2" fill="#999"/>
<rect x="291.6" y="198.3" width="1.2" height="2.2" fill="#999"/>
<rect x="291.6" y="216.4" width="1.2" height="2" fill="#aaa"/>
<rect x="288.6" y="177.4" width="1.7" height="6" fill="#b4b4b4"/>
<rect x="291.5" y="178.9" width="1.1" height="2" fill="#b0b0b0"/>
<rect x="293.1" y="220.8" width="1.6" height="1.6" fill="#888"/>
<rect x="308.0" y="220.9" width="4.0" height="1.4" fill="#a8a8a8"/>
<rect x="324.1" y="220.9" width="4.0" height="1.4" fill="#a8a8a8"/>
<rect x="340.2" y="220.9" width="4.0" height="1.4" fill="#a8a8a8"/>
<rect x="356.3" y="220.9" width="4.0" height="1.4" fill="#a8a8a8"/>
<rect x="370.0" y="220.9" width="4.8" height="1.4" fill="#a8a8a8"/>
<rect x="332.6" y="223.2" width="3.5" height="1.2" fill="#cfcfcf"/>
<path d="M296.00,219.20 296.10,209.06 296.20,204.17 296.30,205.33 M317.50,203.99 317.60,201.43 317.90,193.01 318.20,187.18 318.50,185.22 318.80,175.57 319.10,168.66 319.40,164.17 319.60,155.14 319.70,157.15 320.00,152.11 320.30,154.81 320.60,148.63" fill="none" stroke="#8a8a8a" stroke-width="0.5" stroke-linejoin="round"/>
<path d="M296.30,205.33 296.60,207.05 296.90,210.14 297.00,209.45 297.20,209.27 297.50,213.52 297.80,211.18 298.10,211.89 298.40,212.83 298.70,212.46 299.00,211.72 299.30,214.42 299.60,216.63 299.90,213.31 300.20,215.26 300.30,216.86 300.50,215.80 300.80,217.55 301.10,216.82 301.40,215.62 301.70,216.56 302.00,216.30 302.30,217.23 302.60,215.54 302.90,217.56 303.20,218.31 303.50,217.84 303.80,218.07 304.10,217.93 304.40,218.29 304.70,218.19 305.00,217.98 305.30,218.07 305.60,218.01 305.90,218.41 306.20,218.42 306.50,218.53 306.80,218.51 307.10,218.57 307.40,218.46 307.70,218.46 308.00,218.64 308.30,218.72 308.60,218.84 308.90,218.84 309.20,218.88 309.50,218.95 309.80,219.02 310.10,219.01 310.40,219.01 310.70,218.92 311.00,218.95 311.30,218.80 311.60,218.82 311.90,218.89 312.20,218.95 312.50,218.82 312.80,217.97 313.10,217.87 313.40,215.69 313.70,213.55 314.00,213.84 314.30,213.00 314.60,211.42 314.70,213.25 314.90,215.64 315.20,212.15 315.50,211.40 315.80,213.38 316.10,211.34 316.40,209.12 316.70,209.29 317.00,203.85 317.30,204.07 317.50,203.99 M320.60,148.63 320.70,149.61 320.90,149.46 321.20,153.41 321.50,155.98 321.80,162.14 322.10,168.16 322.40,178.55 322.60,184.09 322.70,185.09 323.00,191.17 323.30,196.04 323.50,195.85 323.60,197.56 323.90,201.40 324.20,206.56 324.30,205.11 324.50,210.29 324.80,209.06 325.10,209.82 325.40,211.45 325.60,209.51 325.70,211.09 326.00,211.05 326.30,212.24 326.60,208.65 326.90,211.89 327.20,210.48 327.50,209.71 327.80,210.61 328.10,208.43 328.40,208.24 328.70,209.47 328.90,207.56 329.00,209.56 329.30,209.71 329.60,207.74 329.90,207.76 330.20,206.62 330.50,206.29 330.80,209.82 331.10,206.26 331.40,208.04 331.70,208.51 332.00,206.92 332.30,207.40 332.60,207.53 332.90,211.67 333.00,209.28 333.20,210.79 333.50,211.70 333.80,210.24 334.10,210.70 334.40,208.08 334.70,207.28 335.00,210.07 335.30,209.66 335.60,205.49 335.90,208.33 336.20,206.72 336.50,207.21 336.80,207.11 337.10,208.18 337.40,203.96 337.70,204.65 338.00,206.50 338.30,204.05 338.60,205.21 338.90,204.15 339.20,201.51 339.50,203.46 339.80,205.88 340.10,203.26 340.40,201.31 340.70,202.60 341.00,202.80 341.30,202.45 341.60,201.23 341.70,201.22 341.90,197.90 342.20,197.43 342.50,195.99 342.80,195.39 343.10,195.66 343.40,195.96 343.70,194.40 344.00,197.41 344.30,198.52 344.50,195.60 344.60,196.63 344.90,199.66 345.20,198.69 345.50,205.36 345.80,201.26 346.10,203.86 346.40,208.43 346.70,207.71 347.00,211.31 347.30,210.35 347.50,213.93 347.60,211.99 347.90,214.50 348.20,215.61 348.50,213.25 348.80,214.82 349.10,214.49 349.40,216.15 349.70,217.96 350.00,217.37 350.30,218.00 350.60,218.35 350.90,218.31 351.20,218.37 351.50,218.44 351.80,218.65 352.10,218.93 352.40,218.99 352.70,219.02 353.00,218.94 353.30,218.88 353.60,218.91 353.90,219.09 354.20,218.95 354.50,219.12 354.80,218.86 355.10,219.02 355.40,218.95 355.70,219.01 356.00,218.86 356.30,218.98 356.60,218.94 356.90,218.92 357.20,218.83 357.50,218.81 357.80,218.92 358.10,219.01 358.40,218.99 358.70,218.99 359.00,219.00 359.30,218.83 359.60,219.08 359.90,218.98 360.20,218.90 360.50,218.93 360.80,219.08 361.10,219.00 361.40,218.82 361.70,219.20 362.00,218.85 362.30,219.17 362.60,219.08 362.90,218.90 363.20,219.13 363.50,219.13 363.80,219.11 364.10,219.08 364.40,219.05 364.70,219.04 365.00,218.97 365.30,219.05 365.60,219.15 365.90,219.02 366.20,219.20 366.50,218.88 366.80,219.04 367.10,218.89 367.40,218.87 367.70,219.07 368.00,219.02 368.30,219.00 368.60,218.95 368.90,219.03 369.20,218.90 369.50,219.04 369.80,219.01 370.10,218.94 370.40,219.11 370.70,218.89 371.00,219.12 371.30,219.11 371.60,219.13 371.90,219.10 372.20,219.17 372.50,219.06 372.80,218.99 373.10,219.13 373.40,219.02 373.70,219.07 374.00,219.12" fill="none" stroke="#262626" stroke-width="0.55" stroke-linejoin="round"/>
<path d="M296.40,219.15 296.50,210.14 296.60,203.63 296.70,203.33 297.00,206.02 297.30,208.56 297.40,210.95 297.60,210.69 297.90,211.13 298.20,212.36 298.50,213.91 298.80,213.93 299.10,215.74 299.40,212.80 299.70,215.10 300.00,214.95 300.30,214.76 300.60,216.91 300.70,217.42 300.90,217.84 301.20,217.65 301.50,216.12 301.80,217.30 302.10,217.50 302.40,218.65 302.70,217.29 303.00,217.48 303.30,218.60 303.60,217.82 303.90,217.74 304.20,218.23 304.50,218.48 304.80,218.33 305.10,217.92 305.40,218.25 305.70,218.53 306.00,218.27 306.30,218.52 306.60,218.46 306.90,218.42 307.20,218.56 307.50,218.51 307.80,218.40 308.10,218.50 308.40,218.76 308.70,218.73 309.00,218.87 309.30,218.85 309.60,218.92 309.90,218.90 310.20,218.96 310.50,219.09 310.80,219.06 311.10,218.84 311.40,219.02 311.70,219.15 312.00,219.01 312.30,218.83 312.60,218.99 312.90,218.93 313.20,218.16 313.50,217.99 313.80,217.90 314.10,215.58 314.40,215.65 314.70,214.36 315.00,214.17 315.10,215.93 315.30,213.05 315.60,213.81 315.90,212.96 316.20,212.28 316.50,210.22 316.80,210.84 317.10,206.64 317.40,207.60 317.70,204.68 317.90,203.91 318.00,200.80 M323.90,196.44 324.00,200.13 324.30,199.41 324.60,207.32 324.70,204.86 324.90,206.01 325.20,205.94 325.50,206.27 325.80,208.51 326.00,206.77 326.10,209.00 326.40,209.75 326.70,209.13 327.00,209.51 327.30,207.44 327.60,206.81 327.90,207.51 328.20,210.87 328.50,209.69 328.80,206.41 329.10,211.17 329.30,209.45 329.40,210.01 329.70,209.64 330.00,209.80 330.30,205.55 330.60,208.15 330.90,206.98 331.20,210.95 331.50,209.21 331.80,208.44 332.10,208.39 332.40,206.08 332.70,209.55 333.00,208.49 333.30,211.78 333.40,210.75 333.60,209.25 333.90,208.33 334.20,210.07 334.50,207.21 334.80,209.15 335.10,207.77 335.40,206.97 335.70,207.88 336.00,209.86 336.30,204.81 336.60,208.10 336.90,207.81 337.20,205.96 337.50,208.19 337.80,206.63 338.10,206.22 338.40,203.87 338.70,206.32 339.00,203.48 339.30,206.27 339.60,208.61 339.90,204.00 340.20,207.69 340.50,202.91 340.80,204.07 341.10,204.44 341.40,200.24 341.70,202.20 342.00,199.61 342.10,199.57 342.30,201.16 342.60,198.64 M344.70,197.81 344.90,199.66 345.00,199.78 345.30,197.39 345.60,202.12 345.90,204.51 346.20,208.30 346.50,205.32 346.80,206.79 347.10,206.53 347.40,209.09 347.70,207.97 347.90,210.24 348.00,211.60 348.30,210.81 348.60,213.45 348.90,213.97 349.20,217.32 349.50,218.33 349.80,218.91 350.10,217.39 350.40,217.86 350.70,218.63 351.00,217.57 351.30,218.54 351.60,218.12 351.90,218.55 352.20,218.54 352.50,218.86 352.80,218.89 353.10,218.88 353.40,218.72 353.70,218.93 354.00,218.89 354.30,219.07 354.60,218.98 354.90,218.71 355.20,218.94 355.50,219.04 355.80,218.92 356.10,218.87 356.40,218.80 356.70,218.91 357.00,218.85 357.30,218.92 357.60,218.92 357.90,219.08 358.20,218.86 358.50,218.99 358.80,218.85 359.10,218.99 359.40,219.07 359.70,218.91 360.00,218.85 360.30,218.98 360.60,218.98 360.90,218.92 361.20,219.02 361.50,218.99 361.80,219.05 362.10,218.85 362.40,219.07 362.70,219.12 363.00,218.92 363.30,219.20 363.60,219.03 363.90,218.88 364.20,218.90 364.50,218.94 364.80,218.95 365.10,218.99 365.40,219.05 365.70,219.00 366.00,218.99 366.30,218.93 366.60,218.83 366.90,218.96 367.20,218.92 367.50,219.13 367.80,218.80 368.10,219.16 368.40,218.76 368.70,219.03 369.00,219.05 369.30,218.95 369.60,218.96 369.90,219.15 370.20,218.96 370.50,219.06 370.80,219.07 371.10,219.14 371.40,218.95 371.70,219.20 372.00,219.07 372.30,219.18 372.60,218.95 372.90,219.20 373.20,219.08 373.50,219.17 373.80,219.03 374.10,219.19 374.40,219.11" fill="none" stroke="#262626" stroke-width="0.55" stroke-linejoin="round"/>
<rect x="387.8" y="137.6" width="77.7" height="81.5" fill="none" stroke="#8c8c8c" stroke-width="1"/>
<rect x="385.4" y="138.2" width="1.4" height="3.6" fill="#555"/>
<rect x="385.5" y="157.0" width="1.2" height="2.2" fill="#999"/>
<rect x="385.5" y="197.7" width="1.2" height="2.2" fill="#999"/>
<rect x="385.5" y="215.9" width="1.2" height="2" fill="#aaa"/>
<rect x="382.5" y="176.8" width="1.7" height="6" fill="#b4b4b4"/>
<rect x="385.4" y="178.3" width="1.1" height="2" fill="#b0b0b0"/>
<rect x="387.0" y="220.3" width="1.6" height="1.6" fill="#888"/>
<rect x="401.3" y="220.4" width="4.0" height="1.4" fill="#a8a8a8"/>
<rect x="416.9" y="220.4" width="4.0" height="1.4" fill="#a8a8a8"/>
<rect x="432.4" y="220.4" width="4.0" height="1.4" fill="#a8a8a8"/>
<rect x="448.0" y="220.4" width="4.0" height="1.4" fill="#a8a8a8"/>
<rect x="461.1" y="220.4" width="4.8" height="1.4" fill="#a8a8a8"/>
<rect x="425.1" y="222.7" width="3.5" height="1.2" fill="#cfcfcf"/>
<path d="M389.90,218.70 390.10,206.24 390.20,203.58 390.40,199.40 390.50,200.11 390.80,196.84 391.10,198.17 391.40,193.66 M409.20,208.01 409.40,206.68 409.70,206.22 410.00,201.82 410.30,199.09 410.50,196.58 410.60,194.03 410.90,185.08 411.20,176.60 411.50,166.55 411.60,166.37 411.80,160.97 412.10,157.92 412.40,152.33 412.70,146.03" fill="none" stroke="#8a8a8a" stroke-width="0.5" stroke-linejoin="round"/>
<path d="M391.40,193.66 391.50,196.32 391.70,197.69 392.00,192.21 392.30,198.19 392.60,193.58 392.90,196.30 393.10,199.66 393.20,198.72 393.50,198.86 393.80,199.17 394.10,199.64 394.40,200.88 394.70,200.62 395.00,201.05 395.30,200.22 395.60,205.67 395.90,203.54 396.20,207.25 396.50,206.14 396.80,206.43 396.90,204.31 397.10,205.99 397.40,207.05 397.70,207.40 398.00,207.75 398.30,205.92 398.60,208.90 398.90,209.76 399.10,209.87 399.20,210.26 399.50,209.03 399.80,210.60 400.10,214.30 400.40,211.70 400.70,212.84 401.00,213.04 401.30,214.38 401.60,214.39 401.80,217.72 401.90,214.12 402.20,217.17 402.50,215.13 402.80,216.38 403.10,218.32 403.40,216.13 403.70,216.29 404.00,214.10 404.30,216.21 404.50,216.29 404.60,216.54 404.90,216.24 405.20,214.25 405.50,213.98 405.80,215.55 406.10,214.18 406.40,214.57 406.70,215.37 407.00,214.72 407.30,214.82 407.60,212.57 407.90,212.95 408.20,209.67 408.50,213.33 408.80,208.81 409.10,211.22 409.20,208.01 M412.70,146.03 413.00,144.76 413.30,149.79 413.50,152.62 413.60,152.22 413.90,162.74 414.20,166.71 414.40,169.59 414.50,174.90 414.80,180.62 415.10,187.38 415.20,190.99 415.40,191.91 415.70,196.72 416.00,197.20 416.30,203.46 416.60,202.76 416.90,203.14 417.20,203.76 417.50,204.63 417.80,202.60 418.10,206.68 418.20,205.61 418.40,208.61 418.70,205.79 419.00,207.60 419.30,206.48 419.60,206.68 419.90,205.39 420.20,206.89 420.50,206.67 420.80,204.21 421.10,206.63 421.40,205.75 421.70,207.07 422.00,208.07 422.30,206.26 422.60,208.52 422.90,208.62 423.20,207.91 423.50,206.25 423.80,206.53 424.10,208.50 424.40,207.98 424.70,206.97 425.00,202.13 425.30,201.44 425.60,207.32 425.90,205.58 426.20,206.50 426.40,205.24 426.50,203.81 426.80,204.82 427.10,203.76 427.40,205.95 427.70,204.65 428.00,201.51 428.30,201.55 428.60,204.20 428.90,203.79 429.20,202.64 429.50,202.53 429.80,199.77 430.10,200.15 430.40,202.08 430.50,198.20 430.70,201.66 431.00,201.39 431.30,201.09 431.60,201.04 431.90,202.53 432.20,199.71 432.50,197.70 432.80,196.05 433.10,195.27 433.20,198.60 433.40,199.55 433.70,194.95 434.00,197.43 434.30,195.51 434.60,195.77 434.90,195.85 435.20,194.79 435.50,192.05 435.80,194.40 435.90,192.71 436.10,190.82 436.40,196.59 436.70,199.68 437.00,198.31 437.30,203.32 437.60,200.54 437.90,205.03 438.20,209.44 438.50,211.48 438.60,211.05 438.80,212.31 439.10,211.09 439.40,213.37 439.70,214.65 440.00,215.72 440.30,216.10 440.50,217.28 440.60,216.97 440.90,217.45 441.20,216.19 441.50,217.63 441.80,217.23 442.10,217.73 442.40,218.11 442.70,218.43 443.00,218.29 443.30,218.38 443.60,218.47 443.90,218.42 444.20,218.48 444.50,218.51 444.80,218.53 445.10,218.46 445.40,218.55 445.70,218.60 446.00,218.43 446.30,218.65 446.60,218.49 446.90,218.64 447.00,218.67 447.20,218.67 447.50,218.49 447.80,218.52 448.10,218.49 448.40,218.67 448.70,218.63 449.00,218.44 449.30,218.69 449.60,218.70 449.90,218.57 450.20,218.62 450.50,218.65 450.80,218.53 451.10,218.59 451.40,218.69 451.70,218.60 452.00,218.63 452.30,218.65 452.60,218.70 452.90,218.67 453.20,218.67 453.50,218.59 453.80,218.70 454.10,218.65 454.40,218.64 454.70,218.70 455.00,218.70 455.30,218.56 455.60,218.62 455.90,218.70 456.20,218.61 456.50,218.70 456.80,218.64 457.10,218.70 457.40,218.57 457.70,218.47 458.00,218.52 458.30,218.70 458.60,218.60 458.90,218.63 459.20,218.62 459.50,218.60 459.80,218.69 460.10,218.69 460.40,218.62 460.70,218.63 461.00,218.70 461.30,218.70 461.60,218.70 461.90,218.70 462.20,218.67 462.50,218.70 462.80,218.70 463.10,218.61 463.40,218.70 463.70,218.45 464.00,218.51 464.30,218.55 464.60,218.60 464.90,218.61 465.00,218.66" fill="none" stroke="#262626" stroke-width="0.55" stroke-linejoin="round"/>
<path d="M390.30,218.70 390.50,204.14 390.60,203.81 390.80,198.75 390.90,198.15 391.20,198.37 M393.60,197.52 393.90,199.72 394.20,198.36 394.50,198.22 394.80,197.01 395.10,200.06 395.40,198.65 395.70,200.95 396.00,199.62 396.30,201.20 396.60,201.81 396.90,203.19 397.20,203.43 397.30,207.37 397.50,207.20 397.80,206.33 398.10,206.09 398.40,209.93 398.70,208.55 399.00,210.28 399.30,211.44 399.50,209.85 399.60,211.15 399.90,211.55 400.20,211.00 400.50,211.98 400.80,212.02 401.10,210.84 401.40,213.58 401.70,216.59 402.00,216.15 402.20,217.54 402.30,215.26 402.60,216.32 402.90,214.59 403.20,214.49 403.50,214.32 403.80,215.86 404.10,216.20 404.40,213.07 404.70,216.07 404.90,216.55 405.00,216.43 405.30,214.08 405.60,215.82 405.90,216.01 406.20,214.08 406.50,214.06 406.80,217.42 407.10,213.82 407.40,213.65 407.70,211.44 408.00,212.18 408.30,214.03 408.60,212.08 408.90,209.71 409.20,210.23 409.50,210.00 409.60,210.04 409.80,205.56 410.10,204.37 410.40,199.47 410.70,196.49 M416.40,197.68 416.70,205.08 417.00,205.11 417.30,203.66 417.60,203.82 417.90,204.92 418.20,203.90 418.50,206.58 418.60,206.03 418.80,202.99 419.10,206.10 419.40,207.07 419.70,206.44 420.00,206.98 420.30,206.68 420.60,206.09 420.90,208.48 421.20,209.05 421.50,206.51 421.80,208.21 422.10,205.41 422.40,208.99 422.70,206.04 423.00,207.31 423.30,208.65 423.60,206.43 423.90,207.22 424.20,208.12 424.50,205.18 424.80,205.97 425.10,206.55 425.40,204.68 425.70,202.89 426.00,203.47 426.30,203.68 426.60,204.08 426.80,205.03 426.90,201.60 427.20,203.84 427.50,204.23 427.80,206.25 428.10,201.55 428.40,202.42 428.70,205.20 429.00,203.19 429.30,204.46 429.60,202.13 429.90,200.64 430.20,201.05 430.50,202.84 430.80,201.92 430.90,201.05 431.10,200.80 431.40,202.03 431.70,201.07 432.00,200.22 432.30,200.73 432.60,199.49 432.90,197.32 433.20,200.24 433.50,200.46 433.60,200.68 433.80,198.12 M437.10,200.16 437.40,199.08 437.70,204.71 438.00,200.99 438.30,206.97 438.60,209.47 438.90,209.55 439.00,210.98 439.20,209.76 439.50,211.60 439.80,213.36 440.10,212.33 440.40,212.51 440.70,215.37 440.90,215.50 441.00,215.54 441.30,216.68 441.60,216.20 441.90,217.84 442.20,217.92 442.50,217.83 442.80,218.04 443.10,218.40 443.40,218.41 443.70,218.35 444.00,218.38 444.30,218.50 444.60,218.38 444.90,218.42 445.20,218.46 445.50,218.42 445.80,218.55 446.10,218.42 446.40,218.65 446.70,218.64 447.00,218.58 447.30,218.68 447.40,218.70 447.60,218.56 447.90,218.60 448.20,218.55 448.50,218.57 448.80,218.57 449.10,218.62 449.40,218.66 449.70,218.70 450.00,218.65 450.30,218.70 450.60,218.60 450.90,218.70 451.20,218.63 451.50,218.61 451.80,218.60 452.10,218.63 452.40,218.59 452.70,218.65 453.00,218.70 453.30,218.64 453.60,218.56 453.90,218.46 454.20,218.63 454.50,218.54 454.80,218.57 455.10,218.66 455.40,218.68 455.70,218.69 456.00,218.70 456.30,218.56 456.60,218.59 456.90,218.57 457.20,218.56 457.50,218.59 457.80,218.58 458.10,218.70 458.40,218.56 458.70,218.70 459.00,218.47 459.30,218.70 459.60,218.52 459.90,218.62 460.20,218.55 460.50,218.67 460.80,218.70 461.10,218.64 461.40,218.61 461.70,218.58 462.00,218.60 462.30,218.60 462.60,218.62 462.90,218.69 463.20,218.70 463.50,218.62 463.80,218.49 464.10,218.66 464.40,218.70 464.70,218.60 465.00,218.70 465.30,218.59 465.40,218.58" fill="none" stroke="#262626" stroke-width="0.55" stroke-linejoin="round"/>
<rect x="12.4" y="236.2" width="81.9" height="82.0" fill="none" stroke="#8c8c8c" stroke-width="1"/>
<rect x="10.0" y="236.8" width="1.4" height="3.6" fill="#555"/>
<rect x="10.1" y="255.7" width="1.2" height="2.2" fill="#999"/>
<rect x="10.1" y="296.7" width="1.2" height="2.2" fill="#999"/>
<rect x="10.1" y="315.0" width="1.2" height="2" fill="#aaa"/>
<rect x="7.1" y="275.7" width="1.7" height="6" fill="#b4b4b4"/>
<rect x="10.0" y="277.2" width="1.1" height="2" fill="#b0b0b0"/>
<rect x="11.6" y="319.4" width="1.6" height="1.6" fill="#888"/>
<rect x="26.8" y="319.5" width="4.0" height="1.4" fill="#a8a8a8"/>
<rect x="43.2" y="319.5" width="4.0" height="1.4" fill="#a8a8a8"/>
<rect x="59.5" y="319.5" width="4.0" height="1.4" fill="#a8a8a8"/>
<rect x="75.9" y="319.5" width="4.0" height="1.4" fill="#a8a8a8"/>
<rect x="89.9" y="319.5" width="4.8" height="1.4" fill="#a8a8a8"/>
<rect x="51.8" y="321.8" width="3.5" height="1.2" fill="#cfcfcf"/>
<path d="M15.00,317.60 15.10,303.86 15.20,302.16 15.30,302.47 M40.50,310.57 40.80,308.53 41.10,306.78 41.40,302.34 41.70,293.80 42.00,284.54 42.30,279.49 42.50,273.53 42.60,270.23 42.90,262.00 43.20,252.36 43.30,251.16 43.50,249.29 43.80,243.72 44.10,239.97" fill="none" stroke="#8a8a8a" stroke-width="0.5" stroke-linejoin="round"/>
<path d="M15.30,302.47 15.60,306.16 15.90,305.63 16.00,307.43 16.20,309.53 16.50,305.91 16.80,306.77 17.10,308.77 17.40,310.46 17.70,309.80 18.00,311.98 18.30,311.04 18.60,313.49 18.90,312.81 19.20,313.11 19.30,312.59 19.50,312.47 19.80,310.12 20.10,312.02 20.40,310.39 20.70,314.29 21.00,311.60 21.30,312.08 21.60,312.82 21.90,316.03 22.20,312.44 22.50,315.89 22.80,314.28 23.10,316.70 23.40,313.96 23.70,313.50 24.00,314.02 24.30,313.33 24.60,313.06 24.90,314.70 25.20,313.33 25.50,314.86 25.80,314.51 26.10,314.87 26.40,315.70 26.70,315.22 27.00,313.00 27.30,315.77 27.60,311.98 27.90,315.83 28.20,315.64 28.50,312.85 28.80,315.44 29.10,311.52 29.40,314.66 29.70,312.87 30.00,312.89 30.30,312.89 30.60,312.30 30.90,313.72 31.20,312.72 31.50,312.69 31.80,312.78 32.10,312.24 32.40,311.42 32.70,313.33 32.90,313.58 33.00,311.06 33.30,313.57 33.60,313.84 33.90,312.36 34.20,313.86 34.50,309.34 34.80,313.49 35.10,310.68 35.40,311.87 35.60,310.22 35.70,314.13 36.00,311.00 36.30,312.43 36.60,309.79 36.90,311.34 37.20,312.32 37.50,311.75 37.80,311.19 38.10,314.22 38.40,310.67 38.70,312.83 39.00,312.65 39.30,312.34 39.60,313.55 39.90,312.97 40.20,312.39 40.30,313.41 40.50,310.57 M44.10,239.97 44.40,242.31 44.70,246.49 45.00,245.11 45.20,242.98 45.30,248.58 45.60,252.60 45.90,257.15 46.00,256.81 46.20,260.59 46.50,268.68 46.80,271.83 47.10,277.90 47.40,276.17 47.70,280.89 48.00,287.03 48.20,289.18 48.30,290.51 48.60,295.52 48.90,299.79 49.20,298.84 49.30,303.05 49.50,304.56 49.80,305.23 50.10,308.43 50.40,309.33 50.60,307.19 50.70,308.61 51.00,309.01 51.30,307.19 51.60,308.76 51.90,310.77 52.20,310.39 52.50,310.39 52.80,313.58 53.10,312.13 53.40,313.02 53.70,310.74 54.00,313.47 54.30,311.41 54.60,311.80 54.90,311.56 55.20,310.64 55.50,313.18 55.80,311.12 56.10,313.91 56.40,312.07 56.70,314.76 57.00,313.50 57.30,314.44 57.50,311.57 57.60,313.57 57.90,313.58 58.20,312.82 58.50,312.48 58.80,312.04 59.10,310.39 59.40,313.67 59.70,311.62 60.00,311.77 60.30,313.26 60.60,310.04 60.90,311.35 61.20,312.89 61.50,311.97 61.80,311.76 62.10,311.13 62.40,312.41 62.70,310.34 63.00,311.65 63.30,313.30 63.60,311.04 63.90,311.95 64.20,311.57 64.50,310.35 64.80,309.27 65.10,310.53 65.40,310.49 65.60,310.04 65.70,311.21 66.00,311.38 66.30,311.50 66.60,310.83 66.90,308.45 67.20,311.61 67.50,309.88 67.80,310.10 68.10,306.74 68.40,309.49 68.70,310.27 69.00,307.49 69.30,307.74 69.60,305.01 69.90,305.98 70.20,305.54 70.50,306.48 70.80,305.63 71.10,305.60 71.40,304.05 71.70,303.85 72.00,305.79 72.30,309.02 72.60,304.78 72.90,307.46 73.00,308.77 73.20,306.48 73.50,305.90 73.80,309.57 74.10,309.81 74.40,309.31 74.70,313.01 75.00,312.45 75.20,311.85 75.30,310.24 75.60,314.06 75.90,314.38 76.20,314.54 76.50,316.04 76.80,313.44 77.10,314.08 77.40,316.56 77.70,316.30 78.00,316.05 78.30,315.93 78.60,316.98 78.90,316.66 79.20,316.98 79.50,316.40 79.80,316.87 80.10,317.03 80.40,317.16 80.60,317.04 80.70,317.18 81.00,317.15 81.30,317.23 81.60,317.22 81.90,317.29 82.20,317.34 82.50,317.30 82.80,317.27 83.10,317.38 83.40,317.44 83.70,317.32 84.00,317.25 84.30,317.51 84.60,317.44 84.90,317.58 85.20,317.33 85.50,317.34 85.80,317.38 86.10,317.40 86.40,317.27 86.70,317.51 87.00,317.29 87.30,317.18 87.60,317.46 87.90,317.37 88.20,317.51 88.50,317.38 88.80,317.37 89.10,317.31 89.40,317.40 89.70,317.51 90.00,317.76 90.30,317.63 90.60,317.51 90.90,317.72 91.20,317.62 91.50,317.42 91.80,317.44 92.10,317.48 92.40,317.58 92.70,317.66 93.00,317.60 93.30,317.62 93.60,317.59 93.90,317.71 94.00,317.78" fill="none" stroke="#262626" stroke-width="0.55" stroke-linejoin="round"/>
<rect x="106.3" y="236.3" width="82.0" height="81.9" fill="none" stroke="#8c8c8c" stroke-width="1"/>
<rect x="103.9" y="236.9" width="1.4" height="3.6" fill="#555"/>
<rect x="104.0" y="255.8" width="1.2" height="2.2" fill="#999"/>
<rect x="104.0" y="296.7" width="1.2" height="2.2" fill="#999"/>
<rect x="104.0" y="315.0" width="1.2" height="2" fill="#aaa"/>
<rect x="101.0" y="275.8" width="1.7" height="6" fill="#b4b4b4"/>
<rect x="103.9" y="277.2" width="1.1" height="2" fill="#b0b0b0"/>
<rect x="105.5" y="319.4" width="1.6" height="1.6" fill="#888"/>
<rect x="120.7" y="319.5" width="4.0" height="1.4" fill="#a8a8a8"/>
<rect x="137.1" y="319.5" width="4.0" height="1.4" fill="#a8a8a8"/>
<rect x="153.5" y="319.5" width="4.0" height="1.4" fill="#a8a8a8"/>
<rect x="169.9" y="319.5" width="4.0" height="1.4" fill="#a8a8a8"/>
<rect x="183.9" y="319.5" width="4.8" height="1.4" fill="#a8a8a8"/>
<rect x="145.8" y="321.8" width="3.5" height="1.2" fill="#cfcfcf"/>
<path d="M109.40,317.80 109.50,306.21 109.60,302.21 109.70,303.76 M133.90,305.42 134.00,305.05 134.30,301.18 134.60,296.17 134.70,292.61 134.90,287.34 135.20,282.32 135.50,272.19 135.80,265.59 136.10,255.44 136.40,252.19 136.60,246.59 136.70,245.80 137.00,246.02 137.20,240.60" fill="none" stroke="#8a8a8a" stroke-width="0.5" stroke-linejoin="round"/>
<path d="M109.70,303.76 110.00,305.14 110.30,307.10 110.60,310.22 110.70,310.27 110.90,309.02 111.20,309.94 111.50,311.65 111.80,310.70 112.10,311.64 112.40,310.59 112.70,312.68 113.00,312.43 113.30,311.11 113.60,313.54 113.90,316.04 114.20,314.37 114.50,313.50 114.80,316.42 115.10,315.81 115.40,315.92 115.70,317.66 116.00,316.99 116.30,317.80 116.60,315.34 116.90,315.72 117.20,316.04 117.50,316.29 117.80,315.54 118.10,316.47 118.40,315.79 118.70,316.30 119.00,316.54 119.30,316.76 119.60,316.86 119.70,316.73 119.90,316.85 120.20,316.77 120.50,316.60 120.80,316.58 121.10,316.42 121.40,317.06 121.70,316.96 122.00,316.63 122.30,317.00 122.60,316.14 122.90,316.21 123.20,316.22 123.50,316.50 123.80,316.08 124.10,315.73 124.40,315.36 124.70,315.50 125.00,316.61 125.20,316.33 125.30,315.12 125.60,317.21 125.90,315.46 126.20,315.40 126.50,315.62 126.80,315.82 127.10,315.27 127.40,315.38 127.70,316.02 128.00,315.90 128.30,313.75 128.60,314.06 128.90,313.44 129.20,313.90 129.30,314.33 129.50,314.16 129.80,315.41 130.10,313.73 130.40,315.20 130.70,315.38 131.00,313.87 131.30,313.61 131.60,314.50 131.90,313.12 132.20,313.11 132.50,313.71 132.80,309.59 133.10,311.84 133.40,309.98 133.70,309.13 133.90,305.42 M137.20,240.60 137.30,241.86 137.60,245.48 137.90,249.44 138.00,250.94 138.20,255.07 138.50,261.34 138.80,265.07 139.10,272.93 139.40,277.63 139.70,282.62 139.90,285.38 140.00,289.24 140.30,290.89 140.60,297.26 140.90,300.06 141.00,300.56 141.20,303.56 141.50,305.24 141.80,306.46 142.10,309.36 142.40,309.77 142.70,308.86 143.00,310.19 143.30,312.98 143.60,309.62 143.90,308.91 144.20,311.72 144.50,310.79 144.80,314.09 145.10,312.70 145.40,311.44 145.60,312.65 145.70,311.51 146.00,313.26 146.30,313.74 146.60,313.96 146.90,313.61 147.20,312.11 147.50,313.49 147.80,312.47 148.10,310.29 148.40,313.73 148.70,310.94 149.00,311.39 149.30,310.23 149.60,311.20 149.90,309.70 150.20,310.73 150.50,311.26 150.80,310.83 151.10,311.88 151.40,313.43 151.70,312.07 152.00,313.07 152.30,313.97 152.60,311.84 152.90,314.34 153.20,312.25 153.50,312.08 153.80,312.45 154.10,313.56 154.40,310.31 154.70,313.14 155.00,311.46 155.30,312.30 155.60,311.00 155.90,309.74 156.20,313.66 156.50,313.00 156.80,310.41 157.10,310.32 157.40,309.66 157.70,311.08 158.00,313.68 158.30,310.80 158.60,308.69 158.90,311.80 159.20,309.57 159.50,308.59 159.80,311.14 160.10,310.37 160.40,310.37 160.70,310.90 161.00,311.11 161.30,306.89 161.60,309.79 161.90,311.04 162.00,311.13 162.20,307.66 162.50,305.78 162.80,306.05 163.10,307.49 163.40,305.87 163.70,307.65 164.00,306.70 164.30,305.76 164.60,306.64 164.70,308.11 164.90,310.25 165.20,312.09 165.50,309.51 165.80,312.09 166.10,312.04 166.40,311.27 166.60,311.70 166.70,315.23 167.00,313.06 167.30,314.03 167.60,315.21 167.90,315.62 168.20,316.50 168.50,315.41 168.80,316.16 169.10,316.57 169.40,316.66 169.70,316.37 170.00,316.30 170.30,317.00 170.60,317.08 170.90,317.19 171.20,317.33 171.50,317.32 171.80,317.46 172.10,317.71 172.40,317.54 172.70,317.54 173.00,317.36 173.30,317.46 173.60,317.62 173.90,317.56 174.20,317.52 174.50,317.66 174.80,317.61 175.10,317.60 175.40,317.53 175.70,317.59 176.00,317.66 176.30,317.59 176.60,317.44 176.90,317.55 177.20,317.54 177.50,317.61 177.80,317.70 178.10,317.57 178.40,317.54 178.70,317.66 179.00,317.64 179.30,317.52 179.60,317.64 179.90,317.62 180.20,317.64 180.50,317.46 180.80,317.42 181.10,317.47 181.40,317.45 181.70,317.72 182.00,317.73 182.30,317.50 182.60,317.78 182.90,317.53 183.20,317.56 183.50,317.80 183.80,317.52 184.10,317.72 184.40,317.74 184.70,317.77 185.00,317.73 185.30,317.69 185.60,317.80 185.90,317.67 186.20,317.69 186.50,317.72 186.80,317.65 187.10,317.68 187.40,317.80 187.70,317.80 188.00,317.76" fill="none" stroke="#262626" stroke-width="0.55" stroke-linejoin="round"/>
<rect x="199.1" y="236.2" width="82.1" height="82.1" fill="none" stroke="#8c8c8c" stroke-width="1"/>
<rect x="196.7" y="236.8" width="1.4" height="3.6" fill="#555"/>
<rect x="196.8" y="255.7" width="1.2" height="2.2" fill="#999"/>
<rect x="196.8" y="296.8" width="1.2" height="2.2" fill="#999"/>
<rect x="196.8" y="315.1" width="1.2" height="2" fill="#aaa"/>
<rect x="193.8" y="275.8" width="1.7" height="6" fill="#b4b4b4"/>
<rect x="196.7" y="277.2" width="1.1" height="2" fill="#b0b0b0"/>
<rect x="198.3" y="319.5" width="1.6" height="1.6" fill="#888"/>
<rect x="213.5" y="319.6" width="4.0" height="1.4" fill="#a8a8a8"/>
<rect x="229.9" y="319.6" width="4.0" height="1.4" fill="#a8a8a8"/>
<rect x="246.4" y="319.6" width="4.0" height="1.4" fill="#a8a8a8"/>
<rect x="262.8" y="319.6" width="4.0" height="1.4" fill="#a8a8a8"/>
<rect x="276.8" y="319.6" width="4.8" height="1.4" fill="#a8a8a8"/>
<rect x="238.6" y="321.9" width="3.5" height="1.2" fill="#cfcfcf"/>
<path d="M201.70,317.89 201.80,304.97 201.90,301.36 202.00,302.27 M225.90,303.98 226.00,307.00 226.30,301.05 226.60,294.88 226.70,292.45 226.90,290.69 227.20,278.89 227.50,269.83 227.80,262.36 228.10,259.48 228.40,257.32 228.70,251.30 228.90,247.17 229.00,247.03" fill="none" stroke="#8a8a8a" stroke-width="0.5" stroke-linejoin="round"/>
<path d="M202.00,302.27 202.30,302.78 202.60,306.24 202.70,307.11 202.90,309.15 203.20,308.99 203.50,310.04 203.80,310.53 204.10,311.78 204.40,313.32 204.70,311.61 205.00,312.02 205.30,311.37 205.60,315.50 205.90,312.98 206.20,313.30 206.30,313.36 206.50,315.56 206.80,314.73 207.10,312.08 207.40,314.79 207.70,316.89 208.00,314.88 208.30,315.25 208.60,317.41 208.90,315.28 209.20,315.53 209.50,316.38 209.80,317.39 210.10,316.48 210.40,315.61 210.70,316.35 211.00,316.36 211.30,316.80 211.60,316.42 211.90,316.69 212.20,316.25 212.50,316.35 212.80,316.86 213.10,317.32 213.40,316.54 213.70,316.38 214.00,317.06 214.30,316.87 214.50,316.95 214.60,316.71 214.90,316.70 215.20,316.50 215.50,316.43 215.80,317.16 216.10,316.06 216.40,315.99 216.70,316.17 217.00,316.01 217.30,317.40 217.60,315.97 217.90,316.34 218.20,314.65 218.50,316.18 218.80,316.10 219.10,315.87 219.40,313.04 219.70,314.01 220.00,312.17 220.30,316.39 220.60,314.15 220.90,316.06 221.20,316.36 221.50,315.23 221.80,313.16 222.10,313.61 222.40,314.78 222.60,311.31 222.70,315.36 223.00,315.25 223.30,314.27 223.60,312.58 223.90,313.16 224.20,310.42 224.50,310.97 224.80,310.45 225.10,308.87 225.40,311.07 225.70,308.23 225.90,303.98 M229.00,247.03 229.30,243.87 229.60,242.02 229.70,245.77 229.90,244.04 230.20,246.01 230.30,249.74 230.50,254.62 230.80,259.06 231.10,267.84 231.40,272.43 231.70,275.37 232.00,287.49 232.20,287.13 232.30,292.50 232.60,292.91 232.90,296.64 233.20,299.38 233.30,299.65 233.50,302.85 233.80,305.66 234.10,306.61 234.40,305.40 234.70,308.50 234.90,310.29 235.00,309.81 235.30,307.74 235.60,312.38 235.90,308.69 236.20,308.66 236.50,310.08 236.80,310.29 237.10,309.57 237.40,309.04 237.60,309.47 237.70,311.14 238.00,308.77 238.30,312.88 238.60,312.31 238.90,311.67 239.20,311.59 239.50,310.09 239.80,310.44 240.10,312.31 240.40,310.51 240.70,313.39 241.00,312.71 241.30,312.35 241.60,311.18 241.70,310.28 241.90,311.27 242.20,310.10 242.50,310.82 242.80,310.76 243.10,310.40 243.40,312.62 243.70,309.92 244.00,310.10 244.30,312.67 244.60,311.44 244.90,311.76 245.20,310.27 245.50,311.54 245.80,312.85 246.10,311.04 246.40,311.48 246.70,312.52 247.00,311.73 247.30,312.62 247.60,309.40 247.90,308.68 248.20,309.51 248.50,311.48 248.80,309.88 249.10,307.95 249.40,313.00 249.70,312.00 250.00,309.29 250.30,308.94 250.60,308.70 250.90,310.52 251.20,309.97 251.30,309.47 251.50,310.87 251.80,307.17 252.10,306.06 252.40,307.26 252.70,306.64 253.00,306.35 253.30,306.44 253.40,303.33 253.60,307.95 253.90,302.54 254.20,305.57 254.50,305.38 254.80,305.72 255.10,304.38 255.40,303.45 255.70,305.13 256.00,304.05 256.30,306.58 256.60,307.19 256.70,305.02 256.90,311.13 257.20,308.24 257.50,310.64 257.80,312.48 258.10,311.50 258.40,311.85 258.70,311.55 259.00,312.62 259.30,313.23 259.60,314.58 259.90,316.34 260.20,316.18 260.30,317.21 260.50,316.60 260.80,316.70 261.10,316.14 261.40,316.94 261.70,317.18 262.00,317.21 262.20,317.50 262.30,317.43 262.60,317.49 262.90,317.51 263.20,317.49 263.50,317.52 263.80,317.56 264.10,317.56 264.40,317.47 264.70,317.63 265.00,317.55 265.30,317.59 265.60,317.73 265.90,317.73 266.20,317.78 266.50,317.55 266.80,317.62 267.10,317.63 267.40,317.60 267.70,317.58 268.00,317.68 268.30,317.71 268.60,317.82 268.90,317.56 269.20,317.66 269.50,317.54 269.80,317.60 270.10,317.39 270.40,317.85 270.70,317.48 271.00,317.65 271.30,317.47 271.60,317.62 271.90,317.55 272.20,317.45 272.50,317.56 272.80,317.65 273.10,317.66 273.40,317.49 273.70,317.75 274.00,317.66 274.30,317.58 274.60,317.85 274.90,317.64 275.20,317.73 275.50,317.87 275.80,317.72 276.10,317.71 276.40,317.82 276.70,317.69 277.00,317.75 277.30,317.73 277.60,317.71 277.90,317.83 278.20,317.78 278.50,317.90 278.80,317.81 279.10,317.63 279.40,317.82 279.70,317.75 280.00,317.76 280.30,317.89 280.60,317.84 280.90,317.64 281.00,317.90" fill="none" stroke="#262626" stroke-width="0.55" stroke-linejoin="round"/>
<rect x="295.6" y="235.4" width="78.6" height="82.9" fill="none" stroke="#8c8c8c" stroke-width="1"/>
<rect x="293.2" y="236.0" width="1.4" height="3.6" fill="#555"/>
<rect x="293.3" y="255.1" width="1.2" height="2.2" fill="#999"/>
<rect x="293.3" y="296.6" width="1.2" height="2.2" fill="#999"/>
<rect x="293.3" y="315.1" width="1.2" height="2" fill="#aaa"/>
<rect x="290.3" y="275.4" width="1.7" height="6" fill="#b4b4b4"/>
<rect x="293.2" y="276.9" width="1.1" height="2" fill="#b0b0b0"/>
<rect x="294.8" y="319.5" width="1.6" height="1.6" fill="#888"/>
<rect x="309.3" y="319.6" width="4.0" height="1.4" fill="#a8a8a8"/>
<rect x="325.0" y="319.6" width="4.0" height="1.4" fill="#a8a8a8"/>
<rect x="340.8" y="319.6" width="4.0" height="1.4" fill="#a8a8a8"/>
<rect x="356.5" y="319.6" width="4.0" height="1.4" fill="#a8a8a8"/>
<rect x="369.8" y="319.6" width="4.8" height="1.4" fill="#a8a8a8"/>
<rect x="333.4" y="321.9" width="3.5" height="1.2" fill="#cfcfcf"/>
<path d="M297.40,317.78 297.50,306.34 297.60,300.41 297.70,298.08 M319.50,301.94 319.60,299.87 319.90,294.52 320.20,284.73 320.30,284.27 320.50,275.30 320.80,261.11 321.10,256.21 321.40,247.24 321.70,246.96" fill="none" stroke="#8a8a8a" stroke-width="0.5" stroke-linejoin="round"/>
<path d="M297.70,298.08 298.00,303.14 298.30,302.54 298.60,301.59 298.70,302.65 298.90,301.63 299.20,304.10 299.50,302.55 299.80,307.17 300.10,307.24 300.40,305.98 300.70,308.71 301.00,306.44 301.30,308.27 301.60,308.14 301.90,311.00 302.20,311.51 302.30,308.81 302.50,310.94 302.80,311.44 303.10,310.38 303.40,313.56 303.70,308.92 304.00,312.95 304.30,313.43 304.60,311.30 304.90,310.58 305.00,313.66 305.20,309.73 305.50,312.43 305.80,310.81 306.10,312.70 306.40,312.15 306.70,311.38 307.00,313.78 307.30,314.91 307.60,312.30 307.70,314.84 307.90,314.47 308.20,313.99 308.50,314.60 308.80,316.07 309.10,316.70 309.40,315.57 309.70,314.65 310.00,316.64 310.30,316.64 310.50,316.07 310.60,316.43 310.90,316.45 311.20,316.15 311.50,316.51 311.80,315.43 312.10,316.70 312.40,313.37 312.70,315.74 313.00,314.27 313.20,314.58 313.30,315.37 313.60,315.89 313.90,312.70 314.20,313.52 314.50,312.06 314.80,313.09 315.10,311.96 315.40,310.77 315.70,313.39 315.90,312.14 316.00,311.52 316.30,312.82 316.60,308.39 316.90,310.93 317.20,312.40 317.50,309.51 317.80,308.59 318.10,308.50 318.40,310.12 318.70,308.47 319.00,305.93 319.30,305.41 319.50,301.94 M321.70,246.96 321.90,243.95 322.00,245.71 322.30,248.19 322.60,252.05 322.70,252.11 322.90,254.19 323.20,261.85 323.50,271.47 323.80,273.64 324.10,279.44 324.40,280.89 324.70,288.28 325.00,296.00 325.20,295.26 325.30,296.65 325.60,298.47 325.90,301.04 326.20,303.80 326.30,300.79 326.50,304.84 326.80,301.13 327.10,303.18 327.40,305.64 327.70,303.62 328.00,304.38 328.20,305.00 328.30,308.23 328.60,304.09 328.90,307.01 329.20,308.44 329.50,304.58 329.80,303.52 330.10,304.41 330.40,302.43 330.70,303.04 330.90,301.67 331.00,300.84 331.30,300.53 331.60,304.45 331.90,301.75 332.20,300.87 332.50,304.33 332.80,301.97 333.10,301.23 333.40,300.09 333.60,300.99 333.70,300.34 334.00,299.70 334.30,299.70 334.60,300.88 334.90,298.97 335.20,301.05 335.50,300.16 335.80,297.15 336.10,297.52 336.40,297.28 336.70,298.40 337.00,301.05 337.30,299.62 337.60,299.59 337.70,300.61 337.90,297.47 338.20,301.30 338.50,300.67 338.80,302.25 339.10,301.01 339.40,303.66 339.70,304.32 340.00,302.72 340.30,304.66 340.40,302.53 340.60,302.67 340.90,301.39 341.20,302.14 341.50,299.85 341.80,299.38 342.10,300.12 342.40,297.56 342.70,299.08 343.00,294.86 343.30,294.17 343.60,292.28 343.70,293.82 343.90,292.16 344.20,289.40 344.50,287.42 344.80,291.38 345.10,291.40 345.40,291.56 345.60,294.47 345.70,295.87 346.00,296.56 346.30,298.48 346.60,302.54 346.90,301.09 347.00,303.75 347.20,305.76 347.50,307.04 347.80,303.77 348.10,307.45 348.40,308.01 348.60,311.49 348.70,310.67 349.00,311.16 349.30,312.25 349.60,312.26 349.90,311.05 350.20,315.85 350.50,311.93 350.80,315.19 351.10,315.44 351.40,315.00 351.70,316.20 352.00,315.31 352.30,316.38 352.60,316.16 352.90,315.90 353.20,316.96 353.30,316.52 353.50,316.93 353.80,316.55 354.10,316.94 354.40,317.05 354.70,317.18 355.00,317.00 355.30,317.15 355.60,317.26 355.90,317.22 356.20,317.46 356.50,317.71 356.80,317.61 357.00,317.66 357.10,317.51 357.40,317.66 357.70,317.66 358.00,317.80 358.30,317.57 358.60,317.74 358.90,317.58 359.20,317.59 359.50,317.58 359.80,317.66 360.10,317.48 360.40,317.60 360.70,317.79 361.00,317.46 361.30,317.73 361.60,317.73 361.90,317.61 362.20,317.58 362.50,317.77 362.80,317.63 363.10,317.70 363.40,317.65 363.70,317.56 364.00,317.78 364.30,317.75 364.60,317.59 364.90,317.80 365.20,317.57 365.50,317.57 365.80,317.78 366.10,317.66 366.40,317.71 366.70,317.87 367.00,317.60 367.30,317.78 367.60,317.68 367.90,317.73 368.20,317.70 368.50,317.65 368.80,317.74 369.10,317.64 369.40,317.74 369.70,317.65 370.00,317.72 370.30,317.76 370.60,317.61 370.90,317.75 371.20,317.83 371.50,317.78 371.80,317.86 372.10,317.67 372.40,317.84 372.70,317.81 373.00,317.51 373.30,317.79 373.60,317.88 373.90,317.79 374.00,317.80" fill="none" stroke="#262626" stroke-width="0.55" stroke-linejoin="round"/>
<path d="M297.80,317.72 297.90,304.81 298.00,298.89 298.10,303.77 298.40,301.04 298.70,301.83 299.00,301.53 299.10,303.25 299.30,302.92 299.60,303.87 299.90,306.65 300.20,304.87 300.50,307.01 300.80,306.10 301.10,308.85 301.40,306.78 301.70,306.97 302.00,308.47 302.30,311.02 302.60,309.21 302.70,308.66 302.90,309.70 303.20,309.03 303.50,310.43 303.80,309.26 304.10,310.68 304.40,311.94 304.70,312.10 305.00,314.09 305.30,313.22 305.40,315.42 305.60,315.11 305.90,313.57 306.20,314.88 306.50,312.98 306.80,313.65 307.10,313.79 307.40,312.95 307.70,314.51 308.00,314.27 308.10,316.83 308.30,315.54 308.60,314.60 308.90,314.37 309.20,314.82 309.50,315.01 309.80,315.31 310.10,316.17 310.40,315.68 310.70,316.50 310.90,316.91 311.00,316.48 311.30,315.90 311.60,315.92 311.90,316.68 312.20,315.06 312.50,317.19 312.80,313.29 313.10,313.97 313.40,315.33 313.60,316.01 313.70,314.05 314.00,311.88 314.30,313.08 314.60,311.85 314.90,311.66 315.20,311.59 315.50,310.89 315.80,311.34 316.10,311.31 316.30,310.56 316.40,308.49 316.70,310.25 317.00,307.54 317.30,310.19 317.60,309.46 317.90,308.70 318.20,312.80 318.50,312.22 318.80,310.68 319.10,307.76 319.40,305.39 319.70,305.52 319.90,306.46 320.00,301.34 M325.60,295.38 325.70,301.21 326.00,299.56 326.30,302.57 326.60,302.94 326.70,303.13 326.90,304.66 327.20,302.87 327.50,305.67 327.80,301.77 328.10,305.14 328.40,306.27 328.60,304.05 328.70,305.06 329.00,306.02 329.30,304.12 329.60,304.47 329.90,304.40 330.20,307.42 330.50,302.51 330.80,303.07 331.10,302.18 331.30,301.72 331.40,300.94 331.70,301.10 332.00,302.12 332.30,303.47 332.60,303.94 332.90,299.06 333.20,299.20 333.50,300.31 333.80,298.41 334.00,298.48 334.10,299.23 334.40,298.34 334.70,297.62 335.00,299.23 335.30,297.57 335.60,298.31 335.90,299.16 336.20,300.28 336.50,299.89 336.80,301.71 337.10,300.64 337.40,298.48 337.70,303.57 338.00,304.75 338.10,302.83 338.30,304.20 338.60,303.57 338.90,301.28 339.20,303.13 339.50,301.25 339.80,301.71 340.10,303.78 340.40,303.30 340.70,302.41 340.80,301.32 341.00,304.44 341.30,302.67 341.60,302.37 341.90,300.21 342.20,299.85 342.50,300.49 342.80,297.21 343.10,300.46 343.40,296.94 M346.40,298.35 346.70,296.76 347.00,300.36 347.30,301.04 347.40,303.45 347.60,303.64 347.90,303.64 348.20,303.49 348.50,305.14 348.80,309.50 349.00,308.35 349.10,307.61 349.40,310.13 349.70,309.16 350.00,312.63 350.30,313.30 350.60,313.01 350.90,313.04 351.20,311.83 351.50,314.86 351.80,316.92 352.10,315.07 352.40,314.51 352.70,316.03 353.00,315.35 353.30,315.30 353.60,316.27 353.70,316.62 353.90,315.99 354.20,316.92 354.50,317.14 354.80,316.91 355.10,316.96 355.40,316.98 355.70,317.22 356.00,317.25 356.30,317.45 356.60,317.56 356.90,317.60 357.20,317.57 357.40,317.42 357.50,317.73 357.80,317.55 358.10,317.56 358.40,317.72 358.70,317.66 359.00,317.51 359.30,317.59 359.60,317.59 359.90,317.61 360.20,317.51 360.50,317.78 360.80,317.62 361.10,317.71 361.40,317.75 361.70,317.86 362.00,317.72 362.30,317.58 362.60,317.62 362.90,317.75 363.20,317.83 363.50,317.52 363.80,317.86 364.10,317.62 364.40,317.66 364.70,317.64 365.00,317.75 365.30,317.67 365.60,317.69 365.90,317.61 366.20,317.85 366.50,317.74 366.80,317.70 367.10,317.90 367.40,317.78 367.70,317.86 368.00,317.70 368.30,317.74 368.60,317.71 368.90,317.82 369.20,317.77 369.50,317.57 369.80,317.80 370.10,317.73 370.40,317.78 370.70,317.85 371.00,317.73 371.30,317.82 371.60,317.77 371.90,317.76 372.20,317.72 372.50,317.77 372.80,317.75 373.10,317.86 373.40,317.56 373.70,317.85 374.00,317.79 374.30,317.69 374.40,317.88" fill="none" stroke="#262626" stroke-width="0.55" stroke-linejoin="round"/>
<rect x="383.4" y="235.5" width="82.1" height="80.9" fill="none" stroke="#8c8c8c" stroke-width="1"/>
<rect x="381.0" y="236.1" width="1.4" height="3.6" fill="#555"/>
<rect x="381.1" y="254.7" width="1.2" height="2.2" fill="#999"/>
<rect x="381.1" y="295.2" width="1.2" height="2.2" fill="#999"/>
<rect x="381.1" y="313.2" width="1.2" height="2" fill="#aaa"/>
<rect x="378.1" y="274.4" width="1.7" height="6" fill="#b4b4b4"/>
<rect x="381.0" y="275.9" width="1.1" height="2" fill="#b0b0b0"/>
<rect x="382.6" y="317.6" width="1.6" height="1.6" fill="#888"/>
<rect x="397.8" y="317.7" width="4.0" height="1.4" fill="#a8a8a8"/>
<rect x="414.2" y="317.7" width="4.0" height="1.4" fill="#a8a8a8"/>
<rect x="430.7" y="317.7" width="4.0" height="1.4" fill="#a8a8a8"/>
<rect x="447.1" y="317.7" width="4.0" height="1.4" fill="#a8a8a8"/>
<rect x="461.1" y="317.7" width="4.8" height="1.4" fill="#a8a8a8"/>
<rect x="422.9" y="320.0" width="3.5" height="1.2" fill="#cfcfcf"/>
<path d="M385.60,315.95 385.80,298.12 385.90,295.94 386.00,292.21 386.20,291.97 M405.90,305.14 406.00,303.05 406.30,299.36 406.60,295.80 406.90,290.12 407.00,288.70 407.20,283.22 407.50,274.34 407.80,266.33 408.10,258.87 408.40,252.42 408.60,249.11 408.70,248.48 409.00,244.45 409.20,240.20" fill="none" stroke="#8a8a8a" stroke-width="0.5" stroke-linejoin="round"/>
<path d="M386.20,291.97 386.50,295.91 386.80,296.11 387.10,297.24 387.40,295.04 387.70,301.21 388.00,300.13 388.30,302.32 388.50,301.75 388.60,302.01 388.90,303.22 389.20,302.74 389.50,305.06 389.80,302.62 390.10,300.83 390.40,303.72 390.70,304.54 391.00,305.47 391.30,305.34 391.60,306.13 391.90,306.48 392.00,305.72 392.20,307.01 392.50,307.45 392.80,306.06 393.10,305.17 393.40,308.28 393.70,309.13 393.90,310.28 394.00,310.49 394.30,309.87 394.60,311.45 394.90,309.68 395.20,310.28 395.50,312.73 395.80,309.78 396.10,311.41 396.40,310.22 396.70,310.08 397.00,314.27 397.30,310.25 397.60,314.91 397.90,312.76 398.20,312.87 398.50,312.12 398.80,314.23 399.10,314.40 399.40,314.07 399.70,312.04 400.00,314.72 400.30,312.79 400.60,312.92 400.90,312.75 401.20,312.47 401.50,311.17 401.80,311.59 402.10,309.95 402.40,310.79 402.70,308.92 403.00,307.98 403.30,308.74 403.60,309.16 403.90,308.32 404.20,308.68 404.30,308.31 404.50,308.62 404.80,310.22 405.10,307.60 405.40,306.90 405.70,306.05 405.90,305.14 M409.20,240.20 409.30,242.73 409.60,246.15 409.90,246.94 410.00,250.07 410.20,250.98 410.50,256.89 410.80,264.02 411.10,272.15 411.40,277.04 411.60,284.47 411.70,283.91 412.00,288.53 412.30,295.04 412.60,297.83 412.70,297.61 412.90,298.63 413.20,298.66 413.50,303.17 413.80,303.34 414.10,306.92 414.40,306.09 414.70,303.96 415.00,302.69 415.30,302.79 415.60,304.81 415.90,302.41 416.20,304.21 416.50,304.37 416.80,304.71 417.10,302.77 417.40,303.41 417.70,300.36 418.00,302.85 418.30,302.42 418.60,303.83 418.90,299.76 419.20,302.01 419.30,305.43 419.50,302.30 419.80,300.90 420.10,301.35 420.40,300.55 420.70,299.81 421.00,301.24 421.30,300.93 421.60,302.46 421.90,304.01 422.20,302.20 422.50,301.75 422.80,303.49 423.10,299.03 423.40,304.03 423.70,299.35 424.00,300.33 424.30,300.69 424.60,298.03 424.90,298.67 425.20,299.44 425.50,299.37 425.80,296.33 426.10,295.22 426.40,299.44 426.70,295.73 427.00,298.82 427.30,299.00 427.40,299.53 427.60,297.35 427.90,297.21 428.20,301.24 428.50,297.86 428.80,296.34 429.10,295.56 429.40,296.89 429.70,299.66 430.00,297.74 430.20,295.03 430.30,293.87 430.60,293.95 430.90,293.77 431.20,293.15 431.50,292.35 431.80,292.65 432.10,288.07 432.40,286.84 432.70,288.22 432.90,288.69 433.00,287.31 433.30,289.87 433.60,290.56 433.90,293.95 434.00,292.28 434.20,293.85 434.50,298.31 434.80,302.02 435.10,302.44 435.40,304.83 435.70,305.57 436.00,306.66 436.30,312.37 436.40,309.54 436.60,310.32 436.90,310.94 437.20,310.96 437.50,312.39 437.80,313.04 438.10,314.09 438.40,314.16 438.70,314.03 439.00,314.71 439.30,315.10 439.60,315.31 439.90,315.15 440.20,315.24 440.50,315.35 440.80,315.63 441.10,315.54 441.40,315.57 441.70,315.63 442.00,315.63 442.30,315.68 442.60,315.74 442.90,315.88 443.20,315.78 443.50,315.79 443.80,315.62 444.10,316.00 444.40,315.86 444.70,315.91 445.00,315.81 445.30,315.85 445.60,315.84 445.90,315.88 446.00,315.86 446.20,315.98 446.50,316.00 446.80,315.90 447.10,315.87 447.40,315.99 447.70,315.88 448.00,315.96 448.30,315.84 448.60,316.00 448.90,315.86 449.20,315.96 449.50,316.00 449.80,315.94 450.10,315.88 450.40,315.98 450.70,316.00 451.00,315.68 451.30,315.86 451.60,315.89 451.90,315.99 452.20,315.75 452.50,315.98 452.80,315.91 453.10,315.96 453.40,315.80 453.70,316.00 454.00,316.00 454.30,315.91 454.60,315.96 454.90,315.80 455.20,315.62 455.50,315.89 455.80,315.88 456.10,315.97 456.40,315.91 456.70,315.77 457.00,315.68 457.30,316.00 457.60,316.00 457.90,315.89 458.20,315.88 458.50,315.97 458.80,315.85 459.10,315.78 459.40,316.00 459.70,315.76 460.00,315.86 460.30,316.00 460.60,315.95 460.90,316.00 461.20,316.00 461.50,315.92 461.80,315.76 462.10,315.73 462.40,315.68 462.70,315.98 463.00,315.76 463.30,315.89 463.60,315.91 463.90,315.94 464.20,315.90 464.50,316.00 464.80,315.94 465.00,316.00" fill="none" stroke="#262626" stroke-width="0.55" stroke-linejoin="round"/>
<path d="M386.00,315.78 386.20,298.44 386.30,296.37 M387.20,294.27 387.50,293.41 387.80,298.52 388.10,297.89 388.40,297.82 388.70,297.25 388.90,297.31 389.00,299.07 389.30,302.52 389.60,300.59 389.90,300.56 390.20,302.09 390.50,304.82 390.80,305.37 391.10,306.86 391.40,304.30 391.70,308.34 392.00,308.98 392.30,307.85 392.40,308.90 392.60,309.96 392.90,308.43 393.20,306.98 393.50,309.19 393.80,309.26 394.10,310.07 394.30,312.10 394.40,309.70 394.70,309.74 395.00,312.08 395.30,310.93 395.60,309.70 395.90,312.20 396.20,313.55 396.50,310.79 396.80,315.25 397.10,315.87 397.40,312.03 397.70,313.32 398.00,313.12 398.30,312.97 398.60,312.28 398.90,312.71 399.20,311.44 399.50,312.27 399.80,312.66 400.10,313.51 400.40,315.52 400.70,314.11 401.00,311.65 401.30,313.19 401.60,314.87 401.90,314.78 402.20,314.17 402.50,311.91 402.80,312.41 403.10,311.39 403.40,309.41 403.70,310.60 404.00,309.67 404.30,308.17 404.60,309.32 404.70,308.88 404.90,308.46 405.20,308.89 405.50,305.45 405.80,306.14 406.10,305.62 406.30,304.89 406.40,303.47 406.70,299.00 407.00,292.32 M413.00,297.31 413.10,301.24 413.30,297.54 413.60,301.96 413.90,300.86 414.20,302.41 414.50,307.38 414.80,305.75 415.10,305.42 415.40,306.73 415.70,304.95 416.00,303.53 416.30,300.33 416.60,304.27 416.90,305.56 417.20,301.92 417.50,300.38 417.80,299.25 418.10,302.64 418.40,298.64 418.70,302.46 419.00,303.22 419.30,301.29 419.60,300.44 419.70,301.59 419.90,304.41 420.20,300.00 420.50,300.44 420.80,302.42 421.10,300.46 421.40,303.50 421.70,300.23 422.00,299.44 422.30,298.97 422.60,300.99 422.90,302.95 423.20,300.70 423.50,299.23 423.80,297.20 424.10,299.51 424.40,297.43 424.70,301.83 425.00,296.89 425.30,296.76 425.60,297.02 425.90,299.55 426.20,300.24 426.50,299.67 426.80,301.21 427.10,300.45 427.40,298.37 427.70,301.94 427.80,297.85 428.00,299.14 428.30,298.39 428.60,299.70 428.90,297.32 429.20,297.44 429.50,293.17 429.80,295.64 430.10,295.43 430.40,297.08 430.60,291.47 430.70,291.86 M434.60,296.19 434.90,297.74 435.20,303.12 435.50,305.59 435.80,305.57 436.10,307.75 436.40,311.12 436.70,311.24 436.80,310.48 437.00,310.79 437.30,312.92 437.60,312.64 437.90,312.80 438.20,312.26 438.50,313.44 438.80,314.39 439.10,315.27 439.40,314.28 439.70,314.94 440.00,314.85 440.30,314.98 440.60,315.44 440.90,315.34 441.20,315.60 441.50,315.71 441.80,315.67 442.10,315.64 442.40,315.65 442.70,315.73 443.00,315.73 443.30,315.77 443.60,315.80 443.90,315.58 444.20,315.64 444.50,315.78 444.80,315.80 445.10,315.69 445.40,315.94 445.70,315.91 446.00,315.91 446.30,316.00 446.40,315.97 446.60,315.89 446.90,315.84 447.20,316.00 447.50,315.85 447.80,315.83 448.10,315.81 448.40,315.97 448.70,315.93 449.00,315.89 449.30,316.00 449.60,315.82 449.90,315.99 450.20,315.85 450.50,315.89 450.80,315.88 451.10,315.92 451.40,316.00 451.70,315.84 452.00,316.00 452.30,316.00 452.60,315.89 452.90,315.84 453.20,315.79 453.50,315.90 453.80,316.00 454.10,315.88 454.40,315.92 454.70,315.81 455.00,315.95 455.30,315.93 455.60,316.00 455.90,316.00 456.20,316.00 456.50,315.82 456.80,315.89 457.10,315.77 457.40,315.86 457.70,315.76 458.00,316.00 458.30,315.68 458.60,315.96 458.90,315.92 459.20,315.75 459.50,315.98 459.80,316.00 460.10,316.00 460.40,315.88 460.70,315.98 461.00,315.92 461.30,316.00 461.60,315.90 461.90,316.00 462.20,315.80 462.50,315.84 462.80,315.79 463.10,315.88 463.40,315.78 463.70,315.92 464.00,315.84 464.30,315.76 464.60,315.93 464.90,316.00 465.20,315.95 465.40,315.94" fill="none" stroke="#262626" stroke-width="0.55" stroke-linejoin="round"/>
<g stroke="#000" stroke-width="1.6" fill="#000">
<line x1="61.8" y1="57.4" x2="52.4" y2="75.2"/>
<polygon points="49.3,80.9 49.5,74.6 54.3,77.2" stroke="none"/>
<line x1="61.4" y1="97.5" x2="61.4" y2="111"/>
<polygon points="61.4,115.8 58.6,110.2 64.2,110.2" stroke="none"/>
<line x1="84.5" y1="92.4" x2="75.6" y2="105.6"/>
<polygon points="72.2,110.2 72.6,104.0 77.3,107.2" stroke="none"/>
</g>
</svg>
<div class="t h" style="left:13.4px;top:10.5px">Day 2</div>
<div class="t h" style="left:106px;top:10.5px">Day 4</div>
<div class="t h" style="left:198.4px;top:10.5px">Day 6</div>
<div class="t h" style="left:293.4px;top:10.5px">Day 8</div>
<div class="t h" style="left:385.5px;top:10.5px">Day 10</div>
<div class="t h" style="left:468.7px;top:10.5px">Selenium</div>
<div class="t g" style="left:62.6px;top:46px">G1</div>
<div class="t g" style="left:79.8px;top:74.7px">G2</div>
<div class="t g" style="left:57.2px;top:86.4px;transform:scaleY(1.04)">S</div>
<div class="t l" style="left:476px;top:69.6px">0</div><div class="t l p" style="left:488px;top:70px">(</div><div class="t l" style="left:494.2px;top:69.6px">μM</div><div class="t l p" style="left:514.6px;top:70px">)</div>
<div class="t l" style="left:476.2px;top:83.3px">Control</div>
<div class="t l" style="left:476px;top:168.3px">0.25</div><div class="t l p" style="left:502.3px;top:168.8px">(</div><div class="t l" style="left:508.2px;top:168.3px">μM</div><div class="t l p" style="left:529.4px;top:168.8px">)</div>
<div class="t l" style="left:479.2px;top:182.5px">Selenite</div>
<div class="t l" style="left:478.9px;top:261.4px">0.25</div><div class="t l p" style="left:505px;top:262px">(</div><div class="t l" style="left:511.2px;top:261.4px">μM</div><div class="t l p" style="left:532.1px;top:262px">)</div>
<div class="t l" style="left:478.8px;top:275.3px">SeMet</div>
</div></body></html>
